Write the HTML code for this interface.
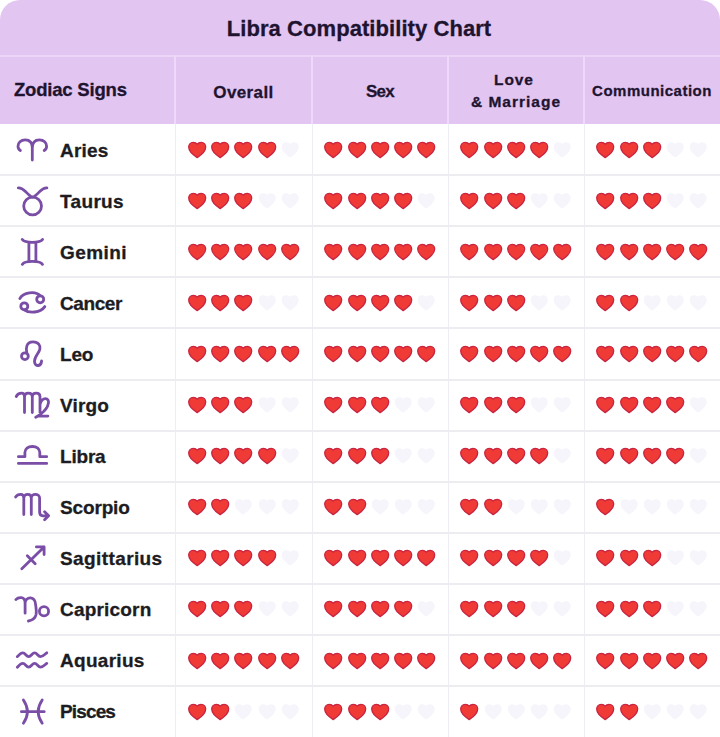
<!DOCTYPE html>
<html><head><meta charset="utf-8"><title>Libra Compatibility Chart</title>
<style>
html,body{margin:0;padding:0;}
body{width:720px;height:737px;overflow:hidden;background:#fff;position:relative;font-family:"Liberation Sans",Arial,sans-serif;font-weight:700;}
.tbl{position:absolute;left:0;top:0;width:720px;height:800px;border-radius:20px 20px 0 0;overflow:hidden;background:#fff;}
.hd{position:absolute;left:0;top:0;width:720px;height:124px;background:#e3c5f2;}
.t1{position:absolute;left:0;width:720px;text-align:center;top:0;height:0;color:#1e1430;}
.hl{position:absolute;left:0;width:720px;height:2px;background:#edecf1;}
.vl{position:absolute;top:124px;width:1px;height:700px;background:#eeedf3;}
.hv{position:absolute;top:56px;width:2px;height:68px;background:#eed9fa;}
.hh{position:absolute;left:0;top:55px;width:720px;height:2px;background:#ecd6f8;}
.tx{position:absolute;white-space:nowrap;color:#1e1430;line-height:0;-webkit-text-stroke:0.3px #1e1430;}
.nm{position:absolute;left:60px;white-space:nowrap;color:#1c1c22;font-size:19px;line-height:0;letter-spacing:0.1px;-webkit-text-stroke:0.3px #1c1c22;}
svg.h,svg.e{position:absolute;overflow:visible;}
svg.h path{fill:#ef3a36;stroke:#c92540;stroke-width:1.3;}
svg.e path{fill:#f5f5fb;}
.ic{position:absolute;left:0;top:0;overflow:visible;}
.ic path,.ic circle{fill:none;stroke:#7a4ea6;stroke-width:2.8;stroke-linecap:round;stroke-linejoin:round;}
</style></head><body>
<div class="tbl">
<div class="hd"></div>
<div class="hh"></div>
<div class="hv" style="left:174px"></div>
<div class="hv" style="left:311px"></div>
<div class="hv" style="left:447px"></div>
<div class="hv" style="left:583px"></div>
<div class="vl" style="left:175px"></div>
<div class="vl" style="left:312px"></div>
<div class="vl" style="left:448px"></div>
<div class="vl" style="left:584px"></div>
<div class="hl" style="top:174.10px"></div><div class="hl" style="top:225.20px"></div><div class="hl" style="top:276.30px"></div><div class="hl" style="top:327.40px"></div><div class="hl" style="top:378.50px"></div><div class="hl" style="top:429.60px"></div><div class="hl" style="top:480.70px"></div><div class="hl" style="top:531.80px"></div><div class="hl" style="top:582.90px"></div><div class="hl" style="top:634.00px"></div><div class="hl" style="top:685.10px"></div>
<div class="tx" style="left:-1px;width:720px;text-align:center;top:28.6px;font-size:22px;letter-spacing:0.07px;">Libra Compatibility Chart</div>
<div class="tx" style="left:14px;top:90.4px;font-size:18.5px;letter-spacing:-0.2px;">Zodiac Signs</div>
<div class="tx" style="left:175px;width:137px;text-align:center;top:92.5px;font-size:17px;letter-spacing:0.4px;">Overall</div>
<div class="tx" style="left:312px;width:136px;text-align:center;top:91.5px;font-size:17px;letter-spacing:-0.8px;">Sex</div>
<div class="tx" style="left:448px;width:136px;text-align:center;top:79.7px;font-size:15.5px;letter-spacing:0.9px;margin-left:-2px;">Love</div>
<div class="tx" style="left:448px;width:136px;text-align:center;top:102.3px;font-size:15.5px;letter-spacing:1px;">&amp; Marriage</div>
<div class="tx" style="left:584px;width:136px;text-align:center;top:90.9px;font-size:15px;letter-spacing:0.5px;">Communication</div>
<svg class="ic" width="175" height="737" viewBox="0 0 175 737">

<path d="M32.3 148C32.3 142.5 29.5 139.9 25.2 139.9C20.8 139.9 18 142.8 18 146.2C18 148 19 149.6 20.4 150.5M32.3 148C32.3 142.5 35.1 139.9 39.4 139.9C43.8 139.9 46.6 142.8 46.6 146.2C46.6 148 45.6 149.6 44.2 150.5M32.3 144V160"/>
<path d="M18.3 187.8C20.8 187.6 22.8 188.8 25.2 191.2C27.8 193.8 30 196.4 32.6 197.1M46.9 187.8C44.4 187.6 42.4 188.8 40 191.2C37.4 193.8 35.2 196.4 32.6 197.1"/><circle cx="32.6" cy="206" r="8.9"/>
<path d="M22.3 239.5C23.6 241.5 26.5 242.3 32.4 242.3C38.3 242.3 41.2 241.5 42.5 239.5M28.9 242.5V261.3M35.9 242.5V261.3M22.3 264.4C23.6 262.3 26.5 261.4 32.4 261.4C38.3 261.4 41.2 262.3 42.5 264.4"/>
<path d="M19.8 298.6C23 292.3 35.5 290.5 40.2 295.8M24.3 309.8C29 313.5 40.5 313 44.8 306.6"/><circle cx="24.3" cy="306.3" r="3.5"/><circle cx="40.2" cy="299.3" r="3.5"/>
<path d="M26.8 353.2C25.8 349 25.9 341.8 33 341.8C38.4 341.8 40.6 345.4 39.9 349C39.2 353 34.4 356.4 34.5 361.4C34.6 364.4 36.4 365.7 38.3 365.5C40.3 365.2 41.4 363.2 41.6 361"/><circle cx="24.9" cy="356.2" r="3.4"/>
<path d="M16.2 396.6C17.4 394 19.6 393.2 21.6 393.2C23.6 393.2 24.5 394.4 24.5 396.8V412.6M24.5 396.8C24.5 394.4 26.3 393.2 28.4 393.2C30.6 393.2 32.3 394.4 32.3 396.8V412.6M32.3 396.8C32.3 394.4 34.1 393.2 36.2 393.2C38.5 393.2 40 394.4 40 396.8V412.6M40 404.5C41 400.5 43 398.6 45.4 398.6C47.8 398.6 48.9 400.6 48.4 403.3C47.7 407.3 44 411.6 40.6 414.1C39 415.3 37.4 416.4 35.7 417.3M38.6 416.1H47.9"/>
<path d="M18.4 456.7H24.9V452.6C24.9 448.8 28 446.5 32.35 446.5C36.7 446.5 39.8 448.8 39.8 452.6V456.7H46.7M18.4 463.4H46.7"/>
<path d="M15.6 497C17 494.6 18.8 494.3 20.6 494.3C22.6 494.3 23.8 495.6 23.8 498V514.6M23.8 498C23.8 495.6 25.6 494.3 27.6 494.3C29.8 494.3 31.3 495.6 31.3 498V514.6M31.3 498C31.3 495.6 33.2 494.3 35.3 494.3C37.6 494.3 39.6 495.6 39.6 498V512C39.6 514.4 40.9 515.8 43 515.8H48.4M44.6 511.8L48.6 515.8L44.6 519.8"/>
<path d="M21.8 568.8L44.1 546.9M36.4 546.9H44.1V554.6M27.3 555.8L35.2 563.7"/>
<path d="M15.8 599.6C17.4 597.9 19.4 597.5 21.4 597.7C23.8 598 25.1 600 25.1 603V613.2M25.1 603C25.1 599.8 27.6 597.7 30.6 597.9C33.8 598.1 35.3 600.8 35.6 604.6C36 608 36.8 611 36.1 614.5C35.2 618.4 31.8 620.4 28.4 621"/><circle cx="44" cy="611.2" r="4.6"/>
<path d="M17.3 656.6C19.3 654.4 20.8 652.8 22.8 652.8C25.3 652.8 26.2 656.6 28.7 656.6C31.2 656.6 32.1 652.8 34.6 652.8C37.1 652.8 38 656.6 40.5 656.6C43 656.6 44.5 654.5 46.8 652.8"/>
<path d="M17.3 667.2C19.3 665 20.8 663.4 22.8 663.4C25.3 663.4 26.2 667.2 28.7 667.2C31.2 667.2 32.1 663.4 34.6 663.4C37.1 663.4 38 667.2 40.5 667.2C43 667.2 44.5 665.1 46.8 663.4"/>
<path d="M23.4 700Q31.4 711.6 23.4 723.2M42.2 700Q34.2 711.6 42.2 723.2M21.4 711.7H44.2"/>

</svg>
<div class="nm" style="top:150.60px;letter-spacing:0.18px">Aries</div>
<svg class="h" style="left:187.70px;top:141.00px" width="18.4" height="17.3" viewBox="0 0 18.4 17.3"><path d="M9.2 16.6C7.6 15.6 0.7 11.3 0.7 6.1C0.7 3.3 2.7 1.3 5.2 1.3C7 1.3 8.4 2 9.2 3.1C10 2 11.4 1.3 13.2 1.3C15.7 1.3 17.7 3.3 17.7 6.1C17.7 11.3 10.8 15.6 9.2 16.6Z"/></svg>
<svg class="h" style="left:211.00px;top:141.00px" width="18.4" height="17.3" viewBox="0 0 18.4 17.3"><path d="M9.2 16.6C7.6 15.6 0.7 11.3 0.7 6.1C0.7 3.3 2.7 1.3 5.2 1.3C7 1.3 8.4 2 9.2 3.1C10 2 11.4 1.3 13.2 1.3C15.7 1.3 17.7 3.3 17.7 6.1C17.7 11.3 10.8 15.6 9.2 16.6Z"/></svg>
<svg class="h" style="left:234.30px;top:141.00px" width="18.4" height="17.3" viewBox="0 0 18.4 17.3"><path d="M9.2 16.6C7.6 15.6 0.7 11.3 0.7 6.1C0.7 3.3 2.7 1.3 5.2 1.3C7 1.3 8.4 2 9.2 3.1C10 2 11.4 1.3 13.2 1.3C15.7 1.3 17.7 3.3 17.7 6.1C17.7 11.3 10.8 15.6 9.2 16.6Z"/></svg>
<svg class="h" style="left:257.60px;top:141.00px" width="18.4" height="17.3" viewBox="0 0 18.4 17.3"><path d="M9.2 16.6C7.6 15.6 0.7 11.3 0.7 6.1C0.7 3.3 2.7 1.3 5.2 1.3C7 1.3 8.4 2 9.2 3.1C10 2 11.4 1.3 13.2 1.3C15.7 1.3 17.7 3.3 17.7 6.1C17.7 11.3 10.8 15.6 9.2 16.6Z"/></svg>
<svg class="e" style="left:280.90px;top:141.00px" width="18.4" height="17.3" viewBox="0 0 18.4 17.3"><path d="M9.2 16.6C7.6 15.6 0.7 11.3 0.7 6.1C0.7 3.3 2.7 1.3 5.2 1.3C7 1.3 8.4 2 9.2 3.1C10 2 11.4 1.3 13.2 1.3C15.7 1.3 17.7 3.3 17.7 6.1C17.7 11.3 10.8 15.6 9.2 16.6Z"/></svg>
<svg class="h" style="left:324.20px;top:141.00px" width="18.4" height="17.3" viewBox="0 0 18.4 17.3"><path d="M9.2 16.6C7.6 15.6 0.7 11.3 0.7 6.1C0.7 3.3 2.7 1.3 5.2 1.3C7 1.3 8.4 2 9.2 3.1C10 2 11.4 1.3 13.2 1.3C15.7 1.3 17.7 3.3 17.7 6.1C17.7 11.3 10.8 15.6 9.2 16.6Z"/></svg>
<svg class="h" style="left:347.50px;top:141.00px" width="18.4" height="17.3" viewBox="0 0 18.4 17.3"><path d="M9.2 16.6C7.6 15.6 0.7 11.3 0.7 6.1C0.7 3.3 2.7 1.3 5.2 1.3C7 1.3 8.4 2 9.2 3.1C10 2 11.4 1.3 13.2 1.3C15.7 1.3 17.7 3.3 17.7 6.1C17.7 11.3 10.8 15.6 9.2 16.6Z"/></svg>
<svg class="h" style="left:370.80px;top:141.00px" width="18.4" height="17.3" viewBox="0 0 18.4 17.3"><path d="M9.2 16.6C7.6 15.6 0.7 11.3 0.7 6.1C0.7 3.3 2.7 1.3 5.2 1.3C7 1.3 8.4 2 9.2 3.1C10 2 11.4 1.3 13.2 1.3C15.7 1.3 17.7 3.3 17.7 6.1C17.7 11.3 10.8 15.6 9.2 16.6Z"/></svg>
<svg class="h" style="left:394.10px;top:141.00px" width="18.4" height="17.3" viewBox="0 0 18.4 17.3"><path d="M9.2 16.6C7.6 15.6 0.7 11.3 0.7 6.1C0.7 3.3 2.7 1.3 5.2 1.3C7 1.3 8.4 2 9.2 3.1C10 2 11.4 1.3 13.2 1.3C15.7 1.3 17.7 3.3 17.7 6.1C17.7 11.3 10.8 15.6 9.2 16.6Z"/></svg>
<svg class="h" style="left:417.40px;top:141.00px" width="18.4" height="17.3" viewBox="0 0 18.4 17.3"><path d="M9.2 16.6C7.6 15.6 0.7 11.3 0.7 6.1C0.7 3.3 2.7 1.3 5.2 1.3C7 1.3 8.4 2 9.2 3.1C10 2 11.4 1.3 13.2 1.3C15.7 1.3 17.7 3.3 17.7 6.1C17.7 11.3 10.8 15.6 9.2 16.6Z"/></svg>
<svg class="h" style="left:460.20px;top:141.00px" width="18.4" height="17.3" viewBox="0 0 18.4 17.3"><path d="M9.2 16.6C7.6 15.6 0.7 11.3 0.7 6.1C0.7 3.3 2.7 1.3 5.2 1.3C7 1.3 8.4 2 9.2 3.1C10 2 11.4 1.3 13.2 1.3C15.7 1.3 17.7 3.3 17.7 6.1C17.7 11.3 10.8 15.6 9.2 16.6Z"/></svg>
<svg class="h" style="left:483.50px;top:141.00px" width="18.4" height="17.3" viewBox="0 0 18.4 17.3"><path d="M9.2 16.6C7.6 15.6 0.7 11.3 0.7 6.1C0.7 3.3 2.7 1.3 5.2 1.3C7 1.3 8.4 2 9.2 3.1C10 2 11.4 1.3 13.2 1.3C15.7 1.3 17.7 3.3 17.7 6.1C17.7 11.3 10.8 15.6 9.2 16.6Z"/></svg>
<svg class="h" style="left:506.80px;top:141.00px" width="18.4" height="17.3" viewBox="0 0 18.4 17.3"><path d="M9.2 16.6C7.6 15.6 0.7 11.3 0.7 6.1C0.7 3.3 2.7 1.3 5.2 1.3C7 1.3 8.4 2 9.2 3.1C10 2 11.4 1.3 13.2 1.3C15.7 1.3 17.7 3.3 17.7 6.1C17.7 11.3 10.8 15.6 9.2 16.6Z"/></svg>
<svg class="h" style="left:530.10px;top:141.00px" width="18.4" height="17.3" viewBox="0 0 18.4 17.3"><path d="M9.2 16.6C7.6 15.6 0.7 11.3 0.7 6.1C0.7 3.3 2.7 1.3 5.2 1.3C7 1.3 8.4 2 9.2 3.1C10 2 11.4 1.3 13.2 1.3C15.7 1.3 17.7 3.3 17.7 6.1C17.7 11.3 10.8 15.6 9.2 16.6Z"/></svg>
<svg class="e" style="left:553.40px;top:141.00px" width="18.4" height="17.3" viewBox="0 0 18.4 17.3"><path d="M9.2 16.6C7.6 15.6 0.7 11.3 0.7 6.1C0.7 3.3 2.7 1.3 5.2 1.3C7 1.3 8.4 2 9.2 3.1C10 2 11.4 1.3 13.2 1.3C15.7 1.3 17.7 3.3 17.7 6.1C17.7 11.3 10.8 15.6 9.2 16.6Z"/></svg>
<svg class="h" style="left:596.20px;top:141.00px" width="18.4" height="17.3" viewBox="0 0 18.4 17.3"><path d="M9.2 16.6C7.6 15.6 0.7 11.3 0.7 6.1C0.7 3.3 2.7 1.3 5.2 1.3C7 1.3 8.4 2 9.2 3.1C10 2 11.4 1.3 13.2 1.3C15.7 1.3 17.7 3.3 17.7 6.1C17.7 11.3 10.8 15.6 9.2 16.6Z"/></svg>
<svg class="h" style="left:619.50px;top:141.00px" width="18.4" height="17.3" viewBox="0 0 18.4 17.3"><path d="M9.2 16.6C7.6 15.6 0.7 11.3 0.7 6.1C0.7 3.3 2.7 1.3 5.2 1.3C7 1.3 8.4 2 9.2 3.1C10 2 11.4 1.3 13.2 1.3C15.7 1.3 17.7 3.3 17.7 6.1C17.7 11.3 10.8 15.6 9.2 16.6Z"/></svg>
<svg class="h" style="left:642.80px;top:141.00px" width="18.4" height="17.3" viewBox="0 0 18.4 17.3"><path d="M9.2 16.6C7.6 15.6 0.7 11.3 0.7 6.1C0.7 3.3 2.7 1.3 5.2 1.3C7 1.3 8.4 2 9.2 3.1C10 2 11.4 1.3 13.2 1.3C15.7 1.3 17.7 3.3 17.7 6.1C17.7 11.3 10.8 15.6 9.2 16.6Z"/></svg>
<svg class="e" style="left:666.10px;top:141.00px" width="18.4" height="17.3" viewBox="0 0 18.4 17.3"><path d="M9.2 16.6C7.6 15.6 0.7 11.3 0.7 6.1C0.7 3.3 2.7 1.3 5.2 1.3C7 1.3 8.4 2 9.2 3.1C10 2 11.4 1.3 13.2 1.3C15.7 1.3 17.7 3.3 17.7 6.1C17.7 11.3 10.8 15.6 9.2 16.6Z"/></svg>
<svg class="e" style="left:689.40px;top:141.00px" width="18.4" height="17.3" viewBox="0 0 18.4 17.3"><path d="M9.2 16.6C7.6 15.6 0.7 11.3 0.7 6.1C0.7 3.3 2.7 1.3 5.2 1.3C7 1.3 8.4 2 9.2 3.1C10 2 11.4 1.3 13.2 1.3C15.7 1.3 17.7 3.3 17.7 6.1C17.7 11.3 10.8 15.6 9.2 16.6Z"/></svg>
<div class="nm" style="top:201.60px;letter-spacing:0.34px">Taurus</div>
<svg class="h" style="left:187.70px;top:192.05px" width="18.4" height="17.3" viewBox="0 0 18.4 17.3"><path d="M9.2 16.6C7.6 15.6 0.7 11.3 0.7 6.1C0.7 3.3 2.7 1.3 5.2 1.3C7 1.3 8.4 2 9.2 3.1C10 2 11.4 1.3 13.2 1.3C15.7 1.3 17.7 3.3 17.7 6.1C17.7 11.3 10.8 15.6 9.2 16.6Z"/></svg>
<svg class="h" style="left:211.00px;top:192.05px" width="18.4" height="17.3" viewBox="0 0 18.4 17.3"><path d="M9.2 16.6C7.6 15.6 0.7 11.3 0.7 6.1C0.7 3.3 2.7 1.3 5.2 1.3C7 1.3 8.4 2 9.2 3.1C10 2 11.4 1.3 13.2 1.3C15.7 1.3 17.7 3.3 17.7 6.1C17.7 11.3 10.8 15.6 9.2 16.6Z"/></svg>
<svg class="h" style="left:234.30px;top:192.05px" width="18.4" height="17.3" viewBox="0 0 18.4 17.3"><path d="M9.2 16.6C7.6 15.6 0.7 11.3 0.7 6.1C0.7 3.3 2.7 1.3 5.2 1.3C7 1.3 8.4 2 9.2 3.1C10 2 11.4 1.3 13.2 1.3C15.7 1.3 17.7 3.3 17.7 6.1C17.7 11.3 10.8 15.6 9.2 16.6Z"/></svg>
<svg class="e" style="left:257.60px;top:192.05px" width="18.4" height="17.3" viewBox="0 0 18.4 17.3"><path d="M9.2 16.6C7.6 15.6 0.7 11.3 0.7 6.1C0.7 3.3 2.7 1.3 5.2 1.3C7 1.3 8.4 2 9.2 3.1C10 2 11.4 1.3 13.2 1.3C15.7 1.3 17.7 3.3 17.7 6.1C17.7 11.3 10.8 15.6 9.2 16.6Z"/></svg>
<svg class="e" style="left:280.90px;top:192.05px" width="18.4" height="17.3" viewBox="0 0 18.4 17.3"><path d="M9.2 16.6C7.6 15.6 0.7 11.3 0.7 6.1C0.7 3.3 2.7 1.3 5.2 1.3C7 1.3 8.4 2 9.2 3.1C10 2 11.4 1.3 13.2 1.3C15.7 1.3 17.7 3.3 17.7 6.1C17.7 11.3 10.8 15.6 9.2 16.6Z"/></svg>
<svg class="h" style="left:324.20px;top:192.05px" width="18.4" height="17.3" viewBox="0 0 18.4 17.3"><path d="M9.2 16.6C7.6 15.6 0.7 11.3 0.7 6.1C0.7 3.3 2.7 1.3 5.2 1.3C7 1.3 8.4 2 9.2 3.1C10 2 11.4 1.3 13.2 1.3C15.7 1.3 17.7 3.3 17.7 6.1C17.7 11.3 10.8 15.6 9.2 16.6Z"/></svg>
<svg class="h" style="left:347.50px;top:192.05px" width="18.4" height="17.3" viewBox="0 0 18.4 17.3"><path d="M9.2 16.6C7.6 15.6 0.7 11.3 0.7 6.1C0.7 3.3 2.7 1.3 5.2 1.3C7 1.3 8.4 2 9.2 3.1C10 2 11.4 1.3 13.2 1.3C15.7 1.3 17.7 3.3 17.7 6.1C17.7 11.3 10.8 15.6 9.2 16.6Z"/></svg>
<svg class="h" style="left:370.80px;top:192.05px" width="18.4" height="17.3" viewBox="0 0 18.4 17.3"><path d="M9.2 16.6C7.6 15.6 0.7 11.3 0.7 6.1C0.7 3.3 2.7 1.3 5.2 1.3C7 1.3 8.4 2 9.2 3.1C10 2 11.4 1.3 13.2 1.3C15.7 1.3 17.7 3.3 17.7 6.1C17.7 11.3 10.8 15.6 9.2 16.6Z"/></svg>
<svg class="h" style="left:394.10px;top:192.05px" width="18.4" height="17.3" viewBox="0 0 18.4 17.3"><path d="M9.2 16.6C7.6 15.6 0.7 11.3 0.7 6.1C0.7 3.3 2.7 1.3 5.2 1.3C7 1.3 8.4 2 9.2 3.1C10 2 11.4 1.3 13.2 1.3C15.7 1.3 17.7 3.3 17.7 6.1C17.7 11.3 10.8 15.6 9.2 16.6Z"/></svg>
<svg class="e" style="left:417.40px;top:192.05px" width="18.4" height="17.3" viewBox="0 0 18.4 17.3"><path d="M9.2 16.6C7.6 15.6 0.7 11.3 0.7 6.1C0.7 3.3 2.7 1.3 5.2 1.3C7 1.3 8.4 2 9.2 3.1C10 2 11.4 1.3 13.2 1.3C15.7 1.3 17.7 3.3 17.7 6.1C17.7 11.3 10.8 15.6 9.2 16.6Z"/></svg>
<svg class="h" style="left:460.20px;top:192.05px" width="18.4" height="17.3" viewBox="0 0 18.4 17.3"><path d="M9.2 16.6C7.6 15.6 0.7 11.3 0.7 6.1C0.7 3.3 2.7 1.3 5.2 1.3C7 1.3 8.4 2 9.2 3.1C10 2 11.4 1.3 13.2 1.3C15.7 1.3 17.7 3.3 17.7 6.1C17.7 11.3 10.8 15.6 9.2 16.6Z"/></svg>
<svg class="h" style="left:483.50px;top:192.05px" width="18.4" height="17.3" viewBox="0 0 18.4 17.3"><path d="M9.2 16.6C7.6 15.6 0.7 11.3 0.7 6.1C0.7 3.3 2.7 1.3 5.2 1.3C7 1.3 8.4 2 9.2 3.1C10 2 11.4 1.3 13.2 1.3C15.7 1.3 17.7 3.3 17.7 6.1C17.7 11.3 10.8 15.6 9.2 16.6Z"/></svg>
<svg class="h" style="left:506.80px;top:192.05px" width="18.4" height="17.3" viewBox="0 0 18.4 17.3"><path d="M9.2 16.6C7.6 15.6 0.7 11.3 0.7 6.1C0.7 3.3 2.7 1.3 5.2 1.3C7 1.3 8.4 2 9.2 3.1C10 2 11.4 1.3 13.2 1.3C15.7 1.3 17.7 3.3 17.7 6.1C17.7 11.3 10.8 15.6 9.2 16.6Z"/></svg>
<svg class="e" style="left:530.10px;top:192.05px" width="18.4" height="17.3" viewBox="0 0 18.4 17.3"><path d="M9.2 16.6C7.6 15.6 0.7 11.3 0.7 6.1C0.7 3.3 2.7 1.3 5.2 1.3C7 1.3 8.4 2 9.2 3.1C10 2 11.4 1.3 13.2 1.3C15.7 1.3 17.7 3.3 17.7 6.1C17.7 11.3 10.8 15.6 9.2 16.6Z"/></svg>
<svg class="e" style="left:553.40px;top:192.05px" width="18.4" height="17.3" viewBox="0 0 18.4 17.3"><path d="M9.2 16.6C7.6 15.6 0.7 11.3 0.7 6.1C0.7 3.3 2.7 1.3 5.2 1.3C7 1.3 8.4 2 9.2 3.1C10 2 11.4 1.3 13.2 1.3C15.7 1.3 17.7 3.3 17.7 6.1C17.7 11.3 10.8 15.6 9.2 16.6Z"/></svg>
<svg class="h" style="left:596.20px;top:192.05px" width="18.4" height="17.3" viewBox="0 0 18.4 17.3"><path d="M9.2 16.6C7.6 15.6 0.7 11.3 0.7 6.1C0.7 3.3 2.7 1.3 5.2 1.3C7 1.3 8.4 2 9.2 3.1C10 2 11.4 1.3 13.2 1.3C15.7 1.3 17.7 3.3 17.7 6.1C17.7 11.3 10.8 15.6 9.2 16.6Z"/></svg>
<svg class="h" style="left:619.50px;top:192.05px" width="18.4" height="17.3" viewBox="0 0 18.4 17.3"><path d="M9.2 16.6C7.6 15.6 0.7 11.3 0.7 6.1C0.7 3.3 2.7 1.3 5.2 1.3C7 1.3 8.4 2 9.2 3.1C10 2 11.4 1.3 13.2 1.3C15.7 1.3 17.7 3.3 17.7 6.1C17.7 11.3 10.8 15.6 9.2 16.6Z"/></svg>
<svg class="h" style="left:642.80px;top:192.05px" width="18.4" height="17.3" viewBox="0 0 18.4 17.3"><path d="M9.2 16.6C7.6 15.6 0.7 11.3 0.7 6.1C0.7 3.3 2.7 1.3 5.2 1.3C7 1.3 8.4 2 9.2 3.1C10 2 11.4 1.3 13.2 1.3C15.7 1.3 17.7 3.3 17.7 6.1C17.7 11.3 10.8 15.6 9.2 16.6Z"/></svg>
<svg class="e" style="left:666.10px;top:192.05px" width="18.4" height="17.3" viewBox="0 0 18.4 17.3"><path d="M9.2 16.6C7.6 15.6 0.7 11.3 0.7 6.1C0.7 3.3 2.7 1.3 5.2 1.3C7 1.3 8.4 2 9.2 3.1C10 2 11.4 1.3 13.2 1.3C15.7 1.3 17.7 3.3 17.7 6.1C17.7 11.3 10.8 15.6 9.2 16.6Z"/></svg>
<svg class="e" style="left:689.40px;top:192.05px" width="18.4" height="17.3" viewBox="0 0 18.4 17.3"><path d="M9.2 16.6C7.6 15.6 0.7 11.3 0.7 6.1C0.7 3.3 2.7 1.3 5.2 1.3C7 1.3 8.4 2 9.2 3.1C10 2 11.4 1.3 13.2 1.3C15.7 1.3 17.7 3.3 17.7 6.1C17.7 11.3 10.8 15.6 9.2 16.6Z"/></svg>
<div class="nm" style="top:252.60px;letter-spacing:0.44px">Gemini</div>
<svg class="h" style="left:187.70px;top:243.10px" width="18.4" height="17.3" viewBox="0 0 18.4 17.3"><path d="M9.2 16.6C7.6 15.6 0.7 11.3 0.7 6.1C0.7 3.3 2.7 1.3 5.2 1.3C7 1.3 8.4 2 9.2 3.1C10 2 11.4 1.3 13.2 1.3C15.7 1.3 17.7 3.3 17.7 6.1C17.7 11.3 10.8 15.6 9.2 16.6Z"/></svg>
<svg class="h" style="left:211.00px;top:243.10px" width="18.4" height="17.3" viewBox="0 0 18.4 17.3"><path d="M9.2 16.6C7.6 15.6 0.7 11.3 0.7 6.1C0.7 3.3 2.7 1.3 5.2 1.3C7 1.3 8.4 2 9.2 3.1C10 2 11.4 1.3 13.2 1.3C15.7 1.3 17.7 3.3 17.7 6.1C17.7 11.3 10.8 15.6 9.2 16.6Z"/></svg>
<svg class="h" style="left:234.30px;top:243.10px" width="18.4" height="17.3" viewBox="0 0 18.4 17.3"><path d="M9.2 16.6C7.6 15.6 0.7 11.3 0.7 6.1C0.7 3.3 2.7 1.3 5.2 1.3C7 1.3 8.4 2 9.2 3.1C10 2 11.4 1.3 13.2 1.3C15.7 1.3 17.7 3.3 17.7 6.1C17.7 11.3 10.8 15.6 9.2 16.6Z"/></svg>
<svg class="h" style="left:257.60px;top:243.10px" width="18.4" height="17.3" viewBox="0 0 18.4 17.3"><path d="M9.2 16.6C7.6 15.6 0.7 11.3 0.7 6.1C0.7 3.3 2.7 1.3 5.2 1.3C7 1.3 8.4 2 9.2 3.1C10 2 11.4 1.3 13.2 1.3C15.7 1.3 17.7 3.3 17.7 6.1C17.7 11.3 10.8 15.6 9.2 16.6Z"/></svg>
<svg class="h" style="left:280.90px;top:243.10px" width="18.4" height="17.3" viewBox="0 0 18.4 17.3"><path d="M9.2 16.6C7.6 15.6 0.7 11.3 0.7 6.1C0.7 3.3 2.7 1.3 5.2 1.3C7 1.3 8.4 2 9.2 3.1C10 2 11.4 1.3 13.2 1.3C15.7 1.3 17.7 3.3 17.7 6.1C17.7 11.3 10.8 15.6 9.2 16.6Z"/></svg>
<svg class="h" style="left:324.20px;top:243.10px" width="18.4" height="17.3" viewBox="0 0 18.4 17.3"><path d="M9.2 16.6C7.6 15.6 0.7 11.3 0.7 6.1C0.7 3.3 2.7 1.3 5.2 1.3C7 1.3 8.4 2 9.2 3.1C10 2 11.4 1.3 13.2 1.3C15.7 1.3 17.7 3.3 17.7 6.1C17.7 11.3 10.8 15.6 9.2 16.6Z"/></svg>
<svg class="h" style="left:347.50px;top:243.10px" width="18.4" height="17.3" viewBox="0 0 18.4 17.3"><path d="M9.2 16.6C7.6 15.6 0.7 11.3 0.7 6.1C0.7 3.3 2.7 1.3 5.2 1.3C7 1.3 8.4 2 9.2 3.1C10 2 11.4 1.3 13.2 1.3C15.7 1.3 17.7 3.3 17.7 6.1C17.7 11.3 10.8 15.6 9.2 16.6Z"/></svg>
<svg class="h" style="left:370.80px;top:243.10px" width="18.4" height="17.3" viewBox="0 0 18.4 17.3"><path d="M9.2 16.6C7.6 15.6 0.7 11.3 0.7 6.1C0.7 3.3 2.7 1.3 5.2 1.3C7 1.3 8.4 2 9.2 3.1C10 2 11.4 1.3 13.2 1.3C15.7 1.3 17.7 3.3 17.7 6.1C17.7 11.3 10.8 15.6 9.2 16.6Z"/></svg>
<svg class="h" style="left:394.10px;top:243.10px" width="18.4" height="17.3" viewBox="0 0 18.4 17.3"><path d="M9.2 16.6C7.6 15.6 0.7 11.3 0.7 6.1C0.7 3.3 2.7 1.3 5.2 1.3C7 1.3 8.4 2 9.2 3.1C10 2 11.4 1.3 13.2 1.3C15.7 1.3 17.7 3.3 17.7 6.1C17.7 11.3 10.8 15.6 9.2 16.6Z"/></svg>
<svg class="h" style="left:417.40px;top:243.10px" width="18.4" height="17.3" viewBox="0 0 18.4 17.3"><path d="M9.2 16.6C7.6 15.6 0.7 11.3 0.7 6.1C0.7 3.3 2.7 1.3 5.2 1.3C7 1.3 8.4 2 9.2 3.1C10 2 11.4 1.3 13.2 1.3C15.7 1.3 17.7 3.3 17.7 6.1C17.7 11.3 10.8 15.6 9.2 16.6Z"/></svg>
<svg class="h" style="left:460.20px;top:243.10px" width="18.4" height="17.3" viewBox="0 0 18.4 17.3"><path d="M9.2 16.6C7.6 15.6 0.7 11.3 0.7 6.1C0.7 3.3 2.7 1.3 5.2 1.3C7 1.3 8.4 2 9.2 3.1C10 2 11.4 1.3 13.2 1.3C15.7 1.3 17.7 3.3 17.7 6.1C17.7 11.3 10.8 15.6 9.2 16.6Z"/></svg>
<svg class="h" style="left:483.50px;top:243.10px" width="18.4" height="17.3" viewBox="0 0 18.4 17.3"><path d="M9.2 16.6C7.6 15.6 0.7 11.3 0.7 6.1C0.7 3.3 2.7 1.3 5.2 1.3C7 1.3 8.4 2 9.2 3.1C10 2 11.4 1.3 13.2 1.3C15.7 1.3 17.7 3.3 17.7 6.1C17.7 11.3 10.8 15.6 9.2 16.6Z"/></svg>
<svg class="h" style="left:506.80px;top:243.10px" width="18.4" height="17.3" viewBox="0 0 18.4 17.3"><path d="M9.2 16.6C7.6 15.6 0.7 11.3 0.7 6.1C0.7 3.3 2.7 1.3 5.2 1.3C7 1.3 8.4 2 9.2 3.1C10 2 11.4 1.3 13.2 1.3C15.7 1.3 17.7 3.3 17.7 6.1C17.7 11.3 10.8 15.6 9.2 16.6Z"/></svg>
<svg class="h" style="left:530.10px;top:243.10px" width="18.4" height="17.3" viewBox="0 0 18.4 17.3"><path d="M9.2 16.6C7.6 15.6 0.7 11.3 0.7 6.1C0.7 3.3 2.7 1.3 5.2 1.3C7 1.3 8.4 2 9.2 3.1C10 2 11.4 1.3 13.2 1.3C15.7 1.3 17.7 3.3 17.7 6.1C17.7 11.3 10.8 15.6 9.2 16.6Z"/></svg>
<svg class="h" style="left:553.40px;top:243.10px" width="18.4" height="17.3" viewBox="0 0 18.4 17.3"><path d="M9.2 16.6C7.6 15.6 0.7 11.3 0.7 6.1C0.7 3.3 2.7 1.3 5.2 1.3C7 1.3 8.4 2 9.2 3.1C10 2 11.4 1.3 13.2 1.3C15.7 1.3 17.7 3.3 17.7 6.1C17.7 11.3 10.8 15.6 9.2 16.6Z"/></svg>
<svg class="h" style="left:596.20px;top:243.10px" width="18.4" height="17.3" viewBox="0 0 18.4 17.3"><path d="M9.2 16.6C7.6 15.6 0.7 11.3 0.7 6.1C0.7 3.3 2.7 1.3 5.2 1.3C7 1.3 8.4 2 9.2 3.1C10 2 11.4 1.3 13.2 1.3C15.7 1.3 17.7 3.3 17.7 6.1C17.7 11.3 10.8 15.6 9.2 16.6Z"/></svg>
<svg class="h" style="left:619.50px;top:243.10px" width="18.4" height="17.3" viewBox="0 0 18.4 17.3"><path d="M9.2 16.6C7.6 15.6 0.7 11.3 0.7 6.1C0.7 3.3 2.7 1.3 5.2 1.3C7 1.3 8.4 2 9.2 3.1C10 2 11.4 1.3 13.2 1.3C15.7 1.3 17.7 3.3 17.7 6.1C17.7 11.3 10.8 15.6 9.2 16.6Z"/></svg>
<svg class="h" style="left:642.80px;top:243.10px" width="18.4" height="17.3" viewBox="0 0 18.4 17.3"><path d="M9.2 16.6C7.6 15.6 0.7 11.3 0.7 6.1C0.7 3.3 2.7 1.3 5.2 1.3C7 1.3 8.4 2 9.2 3.1C10 2 11.4 1.3 13.2 1.3C15.7 1.3 17.7 3.3 17.7 6.1C17.7 11.3 10.8 15.6 9.2 16.6Z"/></svg>
<svg class="h" style="left:666.10px;top:243.10px" width="18.4" height="17.3" viewBox="0 0 18.4 17.3"><path d="M9.2 16.6C7.6 15.6 0.7 11.3 0.7 6.1C0.7 3.3 2.7 1.3 5.2 1.3C7 1.3 8.4 2 9.2 3.1C10 2 11.4 1.3 13.2 1.3C15.7 1.3 17.7 3.3 17.7 6.1C17.7 11.3 10.8 15.6 9.2 16.6Z"/></svg>
<svg class="h" style="left:689.40px;top:243.10px" width="18.4" height="17.3" viewBox="0 0 18.4 17.3"><path d="M9.2 16.6C7.6 15.6 0.7 11.3 0.7 6.1C0.7 3.3 2.7 1.3 5.2 1.3C7 1.3 8.4 2 9.2 3.1C10 2 11.4 1.3 13.2 1.3C15.7 1.3 17.7 3.3 17.7 6.1C17.7 11.3 10.8 15.6 9.2 16.6Z"/></svg>
<div class="nm" style="top:303.60px;letter-spacing:-0.4px">Cancer</div>
<svg class="h" style="left:187.70px;top:294.15px" width="18.4" height="17.3" viewBox="0 0 18.4 17.3"><path d="M9.2 16.6C7.6 15.6 0.7 11.3 0.7 6.1C0.7 3.3 2.7 1.3 5.2 1.3C7 1.3 8.4 2 9.2 3.1C10 2 11.4 1.3 13.2 1.3C15.7 1.3 17.7 3.3 17.7 6.1C17.7 11.3 10.8 15.6 9.2 16.6Z"/></svg>
<svg class="h" style="left:211.00px;top:294.15px" width="18.4" height="17.3" viewBox="0 0 18.4 17.3"><path d="M9.2 16.6C7.6 15.6 0.7 11.3 0.7 6.1C0.7 3.3 2.7 1.3 5.2 1.3C7 1.3 8.4 2 9.2 3.1C10 2 11.4 1.3 13.2 1.3C15.7 1.3 17.7 3.3 17.7 6.1C17.7 11.3 10.8 15.6 9.2 16.6Z"/></svg>
<svg class="h" style="left:234.30px;top:294.15px" width="18.4" height="17.3" viewBox="0 0 18.4 17.3"><path d="M9.2 16.6C7.6 15.6 0.7 11.3 0.7 6.1C0.7 3.3 2.7 1.3 5.2 1.3C7 1.3 8.4 2 9.2 3.1C10 2 11.4 1.3 13.2 1.3C15.7 1.3 17.7 3.3 17.7 6.1C17.7 11.3 10.8 15.6 9.2 16.6Z"/></svg>
<svg class="e" style="left:257.60px;top:294.15px" width="18.4" height="17.3" viewBox="0 0 18.4 17.3"><path d="M9.2 16.6C7.6 15.6 0.7 11.3 0.7 6.1C0.7 3.3 2.7 1.3 5.2 1.3C7 1.3 8.4 2 9.2 3.1C10 2 11.4 1.3 13.2 1.3C15.7 1.3 17.7 3.3 17.7 6.1C17.7 11.3 10.8 15.6 9.2 16.6Z"/></svg>
<svg class="e" style="left:280.90px;top:294.15px" width="18.4" height="17.3" viewBox="0 0 18.4 17.3"><path d="M9.2 16.6C7.6 15.6 0.7 11.3 0.7 6.1C0.7 3.3 2.7 1.3 5.2 1.3C7 1.3 8.4 2 9.2 3.1C10 2 11.4 1.3 13.2 1.3C15.7 1.3 17.7 3.3 17.7 6.1C17.7 11.3 10.8 15.6 9.2 16.6Z"/></svg>
<svg class="h" style="left:324.20px;top:294.15px" width="18.4" height="17.3" viewBox="0 0 18.4 17.3"><path d="M9.2 16.6C7.6 15.6 0.7 11.3 0.7 6.1C0.7 3.3 2.7 1.3 5.2 1.3C7 1.3 8.4 2 9.2 3.1C10 2 11.4 1.3 13.2 1.3C15.7 1.3 17.7 3.3 17.7 6.1C17.7 11.3 10.8 15.6 9.2 16.6Z"/></svg>
<svg class="h" style="left:347.50px;top:294.15px" width="18.4" height="17.3" viewBox="0 0 18.4 17.3"><path d="M9.2 16.6C7.6 15.6 0.7 11.3 0.7 6.1C0.7 3.3 2.7 1.3 5.2 1.3C7 1.3 8.4 2 9.2 3.1C10 2 11.4 1.3 13.2 1.3C15.7 1.3 17.7 3.3 17.7 6.1C17.7 11.3 10.8 15.6 9.2 16.6Z"/></svg>
<svg class="h" style="left:370.80px;top:294.15px" width="18.4" height="17.3" viewBox="0 0 18.4 17.3"><path d="M9.2 16.6C7.6 15.6 0.7 11.3 0.7 6.1C0.7 3.3 2.7 1.3 5.2 1.3C7 1.3 8.4 2 9.2 3.1C10 2 11.4 1.3 13.2 1.3C15.7 1.3 17.7 3.3 17.7 6.1C17.7 11.3 10.8 15.6 9.2 16.6Z"/></svg>
<svg class="h" style="left:394.10px;top:294.15px" width="18.4" height="17.3" viewBox="0 0 18.4 17.3"><path d="M9.2 16.6C7.6 15.6 0.7 11.3 0.7 6.1C0.7 3.3 2.7 1.3 5.2 1.3C7 1.3 8.4 2 9.2 3.1C10 2 11.4 1.3 13.2 1.3C15.7 1.3 17.7 3.3 17.7 6.1C17.7 11.3 10.8 15.6 9.2 16.6Z"/></svg>
<svg class="e" style="left:417.40px;top:294.15px" width="18.4" height="17.3" viewBox="0 0 18.4 17.3"><path d="M9.2 16.6C7.6 15.6 0.7 11.3 0.7 6.1C0.7 3.3 2.7 1.3 5.2 1.3C7 1.3 8.4 2 9.2 3.1C10 2 11.4 1.3 13.2 1.3C15.7 1.3 17.7 3.3 17.7 6.1C17.7 11.3 10.8 15.6 9.2 16.6Z"/></svg>
<svg class="h" style="left:460.20px;top:294.15px" width="18.4" height="17.3" viewBox="0 0 18.4 17.3"><path d="M9.2 16.6C7.6 15.6 0.7 11.3 0.7 6.1C0.7 3.3 2.7 1.3 5.2 1.3C7 1.3 8.4 2 9.2 3.1C10 2 11.4 1.3 13.2 1.3C15.7 1.3 17.7 3.3 17.7 6.1C17.7 11.3 10.8 15.6 9.2 16.6Z"/></svg>
<svg class="h" style="left:483.50px;top:294.15px" width="18.4" height="17.3" viewBox="0 0 18.4 17.3"><path d="M9.2 16.6C7.6 15.6 0.7 11.3 0.7 6.1C0.7 3.3 2.7 1.3 5.2 1.3C7 1.3 8.4 2 9.2 3.1C10 2 11.4 1.3 13.2 1.3C15.7 1.3 17.7 3.3 17.7 6.1C17.7 11.3 10.8 15.6 9.2 16.6Z"/></svg>
<svg class="h" style="left:506.80px;top:294.15px" width="18.4" height="17.3" viewBox="0 0 18.4 17.3"><path d="M9.2 16.6C7.6 15.6 0.7 11.3 0.7 6.1C0.7 3.3 2.7 1.3 5.2 1.3C7 1.3 8.4 2 9.2 3.1C10 2 11.4 1.3 13.2 1.3C15.7 1.3 17.7 3.3 17.7 6.1C17.7 11.3 10.8 15.6 9.2 16.6Z"/></svg>
<svg class="e" style="left:530.10px;top:294.15px" width="18.4" height="17.3" viewBox="0 0 18.4 17.3"><path d="M9.2 16.6C7.6 15.6 0.7 11.3 0.7 6.1C0.7 3.3 2.7 1.3 5.2 1.3C7 1.3 8.4 2 9.2 3.1C10 2 11.4 1.3 13.2 1.3C15.7 1.3 17.7 3.3 17.7 6.1C17.7 11.3 10.8 15.6 9.2 16.6Z"/></svg>
<svg class="e" style="left:553.40px;top:294.15px" width="18.4" height="17.3" viewBox="0 0 18.4 17.3"><path d="M9.2 16.6C7.6 15.6 0.7 11.3 0.7 6.1C0.7 3.3 2.7 1.3 5.2 1.3C7 1.3 8.4 2 9.2 3.1C10 2 11.4 1.3 13.2 1.3C15.7 1.3 17.7 3.3 17.7 6.1C17.7 11.3 10.8 15.6 9.2 16.6Z"/></svg>
<svg class="h" style="left:596.20px;top:294.15px" width="18.4" height="17.3" viewBox="0 0 18.4 17.3"><path d="M9.2 16.6C7.6 15.6 0.7 11.3 0.7 6.1C0.7 3.3 2.7 1.3 5.2 1.3C7 1.3 8.4 2 9.2 3.1C10 2 11.4 1.3 13.2 1.3C15.7 1.3 17.7 3.3 17.7 6.1C17.7 11.3 10.8 15.6 9.2 16.6Z"/></svg>
<svg class="h" style="left:619.50px;top:294.15px" width="18.4" height="17.3" viewBox="0 0 18.4 17.3"><path d="M9.2 16.6C7.6 15.6 0.7 11.3 0.7 6.1C0.7 3.3 2.7 1.3 5.2 1.3C7 1.3 8.4 2 9.2 3.1C10 2 11.4 1.3 13.2 1.3C15.7 1.3 17.7 3.3 17.7 6.1C17.7 11.3 10.8 15.6 9.2 16.6Z"/></svg>
<svg class="e" style="left:642.80px;top:294.15px" width="18.4" height="17.3" viewBox="0 0 18.4 17.3"><path d="M9.2 16.6C7.6 15.6 0.7 11.3 0.7 6.1C0.7 3.3 2.7 1.3 5.2 1.3C7 1.3 8.4 2 9.2 3.1C10 2 11.4 1.3 13.2 1.3C15.7 1.3 17.7 3.3 17.7 6.1C17.7 11.3 10.8 15.6 9.2 16.6Z"/></svg>
<svg class="e" style="left:666.10px;top:294.15px" width="18.4" height="17.3" viewBox="0 0 18.4 17.3"><path d="M9.2 16.6C7.6 15.6 0.7 11.3 0.7 6.1C0.7 3.3 2.7 1.3 5.2 1.3C7 1.3 8.4 2 9.2 3.1C10 2 11.4 1.3 13.2 1.3C15.7 1.3 17.7 3.3 17.7 6.1C17.7 11.3 10.8 15.6 9.2 16.6Z"/></svg>
<svg class="e" style="left:689.40px;top:294.15px" width="18.4" height="17.3" viewBox="0 0 18.4 17.3"><path d="M9.2 16.6C7.6 15.6 0.7 11.3 0.7 6.1C0.7 3.3 2.7 1.3 5.2 1.3C7 1.3 8.4 2 9.2 3.1C10 2 11.4 1.3 13.2 1.3C15.7 1.3 17.7 3.3 17.7 6.1C17.7 11.3 10.8 15.6 9.2 16.6Z"/></svg>
<div class="nm" style="top:354.60px;letter-spacing:-0.15px">Leo</div>
<svg class="h" style="left:187.70px;top:345.20px" width="18.4" height="17.3" viewBox="0 0 18.4 17.3"><path d="M9.2 16.6C7.6 15.6 0.7 11.3 0.7 6.1C0.7 3.3 2.7 1.3 5.2 1.3C7 1.3 8.4 2 9.2 3.1C10 2 11.4 1.3 13.2 1.3C15.7 1.3 17.7 3.3 17.7 6.1C17.7 11.3 10.8 15.6 9.2 16.6Z"/></svg>
<svg class="h" style="left:211.00px;top:345.20px" width="18.4" height="17.3" viewBox="0 0 18.4 17.3"><path d="M9.2 16.6C7.6 15.6 0.7 11.3 0.7 6.1C0.7 3.3 2.7 1.3 5.2 1.3C7 1.3 8.4 2 9.2 3.1C10 2 11.4 1.3 13.2 1.3C15.7 1.3 17.7 3.3 17.7 6.1C17.7 11.3 10.8 15.6 9.2 16.6Z"/></svg>
<svg class="h" style="left:234.30px;top:345.20px" width="18.4" height="17.3" viewBox="0 0 18.4 17.3"><path d="M9.2 16.6C7.6 15.6 0.7 11.3 0.7 6.1C0.7 3.3 2.7 1.3 5.2 1.3C7 1.3 8.4 2 9.2 3.1C10 2 11.4 1.3 13.2 1.3C15.7 1.3 17.7 3.3 17.7 6.1C17.7 11.3 10.8 15.6 9.2 16.6Z"/></svg>
<svg class="h" style="left:257.60px;top:345.20px" width="18.4" height="17.3" viewBox="0 0 18.4 17.3"><path d="M9.2 16.6C7.6 15.6 0.7 11.3 0.7 6.1C0.7 3.3 2.7 1.3 5.2 1.3C7 1.3 8.4 2 9.2 3.1C10 2 11.4 1.3 13.2 1.3C15.7 1.3 17.7 3.3 17.7 6.1C17.7 11.3 10.8 15.6 9.2 16.6Z"/></svg>
<svg class="h" style="left:280.90px;top:345.20px" width="18.4" height="17.3" viewBox="0 0 18.4 17.3"><path d="M9.2 16.6C7.6 15.6 0.7 11.3 0.7 6.1C0.7 3.3 2.7 1.3 5.2 1.3C7 1.3 8.4 2 9.2 3.1C10 2 11.4 1.3 13.2 1.3C15.7 1.3 17.7 3.3 17.7 6.1C17.7 11.3 10.8 15.6 9.2 16.6Z"/></svg>
<svg class="h" style="left:324.20px;top:345.20px" width="18.4" height="17.3" viewBox="0 0 18.4 17.3"><path d="M9.2 16.6C7.6 15.6 0.7 11.3 0.7 6.1C0.7 3.3 2.7 1.3 5.2 1.3C7 1.3 8.4 2 9.2 3.1C10 2 11.4 1.3 13.2 1.3C15.7 1.3 17.7 3.3 17.7 6.1C17.7 11.3 10.8 15.6 9.2 16.6Z"/></svg>
<svg class="h" style="left:347.50px;top:345.20px" width="18.4" height="17.3" viewBox="0 0 18.4 17.3"><path d="M9.2 16.6C7.6 15.6 0.7 11.3 0.7 6.1C0.7 3.3 2.7 1.3 5.2 1.3C7 1.3 8.4 2 9.2 3.1C10 2 11.4 1.3 13.2 1.3C15.7 1.3 17.7 3.3 17.7 6.1C17.7 11.3 10.8 15.6 9.2 16.6Z"/></svg>
<svg class="h" style="left:370.80px;top:345.20px" width="18.4" height="17.3" viewBox="0 0 18.4 17.3"><path d="M9.2 16.6C7.6 15.6 0.7 11.3 0.7 6.1C0.7 3.3 2.7 1.3 5.2 1.3C7 1.3 8.4 2 9.2 3.1C10 2 11.4 1.3 13.2 1.3C15.7 1.3 17.7 3.3 17.7 6.1C17.7 11.3 10.8 15.6 9.2 16.6Z"/></svg>
<svg class="h" style="left:394.10px;top:345.20px" width="18.4" height="17.3" viewBox="0 0 18.4 17.3"><path d="M9.2 16.6C7.6 15.6 0.7 11.3 0.7 6.1C0.7 3.3 2.7 1.3 5.2 1.3C7 1.3 8.4 2 9.2 3.1C10 2 11.4 1.3 13.2 1.3C15.7 1.3 17.7 3.3 17.7 6.1C17.7 11.3 10.8 15.6 9.2 16.6Z"/></svg>
<svg class="h" style="left:417.40px;top:345.20px" width="18.4" height="17.3" viewBox="0 0 18.4 17.3"><path d="M9.2 16.6C7.6 15.6 0.7 11.3 0.7 6.1C0.7 3.3 2.7 1.3 5.2 1.3C7 1.3 8.4 2 9.2 3.1C10 2 11.4 1.3 13.2 1.3C15.7 1.3 17.7 3.3 17.7 6.1C17.7 11.3 10.8 15.6 9.2 16.6Z"/></svg>
<svg class="h" style="left:460.20px;top:345.20px" width="18.4" height="17.3" viewBox="0 0 18.4 17.3"><path d="M9.2 16.6C7.6 15.6 0.7 11.3 0.7 6.1C0.7 3.3 2.7 1.3 5.2 1.3C7 1.3 8.4 2 9.2 3.1C10 2 11.4 1.3 13.2 1.3C15.7 1.3 17.7 3.3 17.7 6.1C17.7 11.3 10.8 15.6 9.2 16.6Z"/></svg>
<svg class="h" style="left:483.50px;top:345.20px" width="18.4" height="17.3" viewBox="0 0 18.4 17.3"><path d="M9.2 16.6C7.6 15.6 0.7 11.3 0.7 6.1C0.7 3.3 2.7 1.3 5.2 1.3C7 1.3 8.4 2 9.2 3.1C10 2 11.4 1.3 13.2 1.3C15.7 1.3 17.7 3.3 17.7 6.1C17.7 11.3 10.8 15.6 9.2 16.6Z"/></svg>
<svg class="h" style="left:506.80px;top:345.20px" width="18.4" height="17.3" viewBox="0 0 18.4 17.3"><path d="M9.2 16.6C7.6 15.6 0.7 11.3 0.7 6.1C0.7 3.3 2.7 1.3 5.2 1.3C7 1.3 8.4 2 9.2 3.1C10 2 11.4 1.3 13.2 1.3C15.7 1.3 17.7 3.3 17.7 6.1C17.7 11.3 10.8 15.6 9.2 16.6Z"/></svg>
<svg class="h" style="left:530.10px;top:345.20px" width="18.4" height="17.3" viewBox="0 0 18.4 17.3"><path d="M9.2 16.6C7.6 15.6 0.7 11.3 0.7 6.1C0.7 3.3 2.7 1.3 5.2 1.3C7 1.3 8.4 2 9.2 3.1C10 2 11.4 1.3 13.2 1.3C15.7 1.3 17.7 3.3 17.7 6.1C17.7 11.3 10.8 15.6 9.2 16.6Z"/></svg>
<svg class="h" style="left:553.40px;top:345.20px" width="18.4" height="17.3" viewBox="0 0 18.4 17.3"><path d="M9.2 16.6C7.6 15.6 0.7 11.3 0.7 6.1C0.7 3.3 2.7 1.3 5.2 1.3C7 1.3 8.4 2 9.2 3.1C10 2 11.4 1.3 13.2 1.3C15.7 1.3 17.7 3.3 17.7 6.1C17.7 11.3 10.8 15.6 9.2 16.6Z"/></svg>
<svg class="h" style="left:596.20px;top:345.20px" width="18.4" height="17.3" viewBox="0 0 18.4 17.3"><path d="M9.2 16.6C7.6 15.6 0.7 11.3 0.7 6.1C0.7 3.3 2.7 1.3 5.2 1.3C7 1.3 8.4 2 9.2 3.1C10 2 11.4 1.3 13.2 1.3C15.7 1.3 17.7 3.3 17.7 6.1C17.7 11.3 10.8 15.6 9.2 16.6Z"/></svg>
<svg class="h" style="left:619.50px;top:345.20px" width="18.4" height="17.3" viewBox="0 0 18.4 17.3"><path d="M9.2 16.6C7.6 15.6 0.7 11.3 0.7 6.1C0.7 3.3 2.7 1.3 5.2 1.3C7 1.3 8.4 2 9.2 3.1C10 2 11.4 1.3 13.2 1.3C15.7 1.3 17.7 3.3 17.7 6.1C17.7 11.3 10.8 15.6 9.2 16.6Z"/></svg>
<svg class="h" style="left:642.80px;top:345.20px" width="18.4" height="17.3" viewBox="0 0 18.4 17.3"><path d="M9.2 16.6C7.6 15.6 0.7 11.3 0.7 6.1C0.7 3.3 2.7 1.3 5.2 1.3C7 1.3 8.4 2 9.2 3.1C10 2 11.4 1.3 13.2 1.3C15.7 1.3 17.7 3.3 17.7 6.1C17.7 11.3 10.8 15.6 9.2 16.6Z"/></svg>
<svg class="h" style="left:666.10px;top:345.20px" width="18.4" height="17.3" viewBox="0 0 18.4 17.3"><path d="M9.2 16.6C7.6 15.6 0.7 11.3 0.7 6.1C0.7 3.3 2.7 1.3 5.2 1.3C7 1.3 8.4 2 9.2 3.1C10 2 11.4 1.3 13.2 1.3C15.7 1.3 17.7 3.3 17.7 6.1C17.7 11.3 10.8 15.6 9.2 16.6Z"/></svg>
<svg class="h" style="left:689.40px;top:345.20px" width="18.4" height="17.3" viewBox="0 0 18.4 17.3"><path d="M9.2 16.6C7.6 15.6 0.7 11.3 0.7 6.1C0.7 3.3 2.7 1.3 5.2 1.3C7 1.3 8.4 2 9.2 3.1C10 2 11.4 1.3 13.2 1.3C15.7 1.3 17.7 3.3 17.7 6.1C17.7 11.3 10.8 15.6 9.2 16.6Z"/></svg>
<div class="nm" style="top:405.60px;letter-spacing:0.15px">Virgo</div>
<svg class="h" style="left:187.70px;top:396.25px" width="18.4" height="17.3" viewBox="0 0 18.4 17.3"><path d="M9.2 16.6C7.6 15.6 0.7 11.3 0.7 6.1C0.7 3.3 2.7 1.3 5.2 1.3C7 1.3 8.4 2 9.2 3.1C10 2 11.4 1.3 13.2 1.3C15.7 1.3 17.7 3.3 17.7 6.1C17.7 11.3 10.8 15.6 9.2 16.6Z"/></svg>
<svg class="h" style="left:211.00px;top:396.25px" width="18.4" height="17.3" viewBox="0 0 18.4 17.3"><path d="M9.2 16.6C7.6 15.6 0.7 11.3 0.7 6.1C0.7 3.3 2.7 1.3 5.2 1.3C7 1.3 8.4 2 9.2 3.1C10 2 11.4 1.3 13.2 1.3C15.7 1.3 17.7 3.3 17.7 6.1C17.7 11.3 10.8 15.6 9.2 16.6Z"/></svg>
<svg class="h" style="left:234.30px;top:396.25px" width="18.4" height="17.3" viewBox="0 0 18.4 17.3"><path d="M9.2 16.6C7.6 15.6 0.7 11.3 0.7 6.1C0.7 3.3 2.7 1.3 5.2 1.3C7 1.3 8.4 2 9.2 3.1C10 2 11.4 1.3 13.2 1.3C15.7 1.3 17.7 3.3 17.7 6.1C17.7 11.3 10.8 15.6 9.2 16.6Z"/></svg>
<svg class="e" style="left:257.60px;top:396.25px" width="18.4" height="17.3" viewBox="0 0 18.4 17.3"><path d="M9.2 16.6C7.6 15.6 0.7 11.3 0.7 6.1C0.7 3.3 2.7 1.3 5.2 1.3C7 1.3 8.4 2 9.2 3.1C10 2 11.4 1.3 13.2 1.3C15.7 1.3 17.7 3.3 17.7 6.1C17.7 11.3 10.8 15.6 9.2 16.6Z"/></svg>
<svg class="e" style="left:280.90px;top:396.25px" width="18.4" height="17.3" viewBox="0 0 18.4 17.3"><path d="M9.2 16.6C7.6 15.6 0.7 11.3 0.7 6.1C0.7 3.3 2.7 1.3 5.2 1.3C7 1.3 8.4 2 9.2 3.1C10 2 11.4 1.3 13.2 1.3C15.7 1.3 17.7 3.3 17.7 6.1C17.7 11.3 10.8 15.6 9.2 16.6Z"/></svg>
<svg class="h" style="left:324.20px;top:396.25px" width="18.4" height="17.3" viewBox="0 0 18.4 17.3"><path d="M9.2 16.6C7.6 15.6 0.7 11.3 0.7 6.1C0.7 3.3 2.7 1.3 5.2 1.3C7 1.3 8.4 2 9.2 3.1C10 2 11.4 1.3 13.2 1.3C15.7 1.3 17.7 3.3 17.7 6.1C17.7 11.3 10.8 15.6 9.2 16.6Z"/></svg>
<svg class="h" style="left:347.50px;top:396.25px" width="18.4" height="17.3" viewBox="0 0 18.4 17.3"><path d="M9.2 16.6C7.6 15.6 0.7 11.3 0.7 6.1C0.7 3.3 2.7 1.3 5.2 1.3C7 1.3 8.4 2 9.2 3.1C10 2 11.4 1.3 13.2 1.3C15.7 1.3 17.7 3.3 17.7 6.1C17.7 11.3 10.8 15.6 9.2 16.6Z"/></svg>
<svg class="h" style="left:370.80px;top:396.25px" width="18.4" height="17.3" viewBox="0 0 18.4 17.3"><path d="M9.2 16.6C7.6 15.6 0.7 11.3 0.7 6.1C0.7 3.3 2.7 1.3 5.2 1.3C7 1.3 8.4 2 9.2 3.1C10 2 11.4 1.3 13.2 1.3C15.7 1.3 17.7 3.3 17.7 6.1C17.7 11.3 10.8 15.6 9.2 16.6Z"/></svg>
<svg class="e" style="left:394.10px;top:396.25px" width="18.4" height="17.3" viewBox="0 0 18.4 17.3"><path d="M9.2 16.6C7.6 15.6 0.7 11.3 0.7 6.1C0.7 3.3 2.7 1.3 5.2 1.3C7 1.3 8.4 2 9.2 3.1C10 2 11.4 1.3 13.2 1.3C15.7 1.3 17.7 3.3 17.7 6.1C17.7 11.3 10.8 15.6 9.2 16.6Z"/></svg>
<svg class="e" style="left:417.40px;top:396.25px" width="18.4" height="17.3" viewBox="0 0 18.4 17.3"><path d="M9.2 16.6C7.6 15.6 0.7 11.3 0.7 6.1C0.7 3.3 2.7 1.3 5.2 1.3C7 1.3 8.4 2 9.2 3.1C10 2 11.4 1.3 13.2 1.3C15.7 1.3 17.7 3.3 17.7 6.1C17.7 11.3 10.8 15.6 9.2 16.6Z"/></svg>
<svg class="h" style="left:460.20px;top:396.25px" width="18.4" height="17.3" viewBox="0 0 18.4 17.3"><path d="M9.2 16.6C7.6 15.6 0.7 11.3 0.7 6.1C0.7 3.3 2.7 1.3 5.2 1.3C7 1.3 8.4 2 9.2 3.1C10 2 11.4 1.3 13.2 1.3C15.7 1.3 17.7 3.3 17.7 6.1C17.7 11.3 10.8 15.6 9.2 16.6Z"/></svg>
<svg class="h" style="left:483.50px;top:396.25px" width="18.4" height="17.3" viewBox="0 0 18.4 17.3"><path d="M9.2 16.6C7.6 15.6 0.7 11.3 0.7 6.1C0.7 3.3 2.7 1.3 5.2 1.3C7 1.3 8.4 2 9.2 3.1C10 2 11.4 1.3 13.2 1.3C15.7 1.3 17.7 3.3 17.7 6.1C17.7 11.3 10.8 15.6 9.2 16.6Z"/></svg>
<svg class="h" style="left:506.80px;top:396.25px" width="18.4" height="17.3" viewBox="0 0 18.4 17.3"><path d="M9.2 16.6C7.6 15.6 0.7 11.3 0.7 6.1C0.7 3.3 2.7 1.3 5.2 1.3C7 1.3 8.4 2 9.2 3.1C10 2 11.4 1.3 13.2 1.3C15.7 1.3 17.7 3.3 17.7 6.1C17.7 11.3 10.8 15.6 9.2 16.6Z"/></svg>
<svg class="e" style="left:530.10px;top:396.25px" width="18.4" height="17.3" viewBox="0 0 18.4 17.3"><path d="M9.2 16.6C7.6 15.6 0.7 11.3 0.7 6.1C0.7 3.3 2.7 1.3 5.2 1.3C7 1.3 8.4 2 9.2 3.1C10 2 11.4 1.3 13.2 1.3C15.7 1.3 17.7 3.3 17.7 6.1C17.7 11.3 10.8 15.6 9.2 16.6Z"/></svg>
<svg class="e" style="left:553.40px;top:396.25px" width="18.4" height="17.3" viewBox="0 0 18.4 17.3"><path d="M9.2 16.6C7.6 15.6 0.7 11.3 0.7 6.1C0.7 3.3 2.7 1.3 5.2 1.3C7 1.3 8.4 2 9.2 3.1C10 2 11.4 1.3 13.2 1.3C15.7 1.3 17.7 3.3 17.7 6.1C17.7 11.3 10.8 15.6 9.2 16.6Z"/></svg>
<svg class="h" style="left:596.20px;top:396.25px" width="18.4" height="17.3" viewBox="0 0 18.4 17.3"><path d="M9.2 16.6C7.6 15.6 0.7 11.3 0.7 6.1C0.7 3.3 2.7 1.3 5.2 1.3C7 1.3 8.4 2 9.2 3.1C10 2 11.4 1.3 13.2 1.3C15.7 1.3 17.7 3.3 17.7 6.1C17.7 11.3 10.8 15.6 9.2 16.6Z"/></svg>
<svg class="h" style="left:619.50px;top:396.25px" width="18.4" height="17.3" viewBox="0 0 18.4 17.3"><path d="M9.2 16.6C7.6 15.6 0.7 11.3 0.7 6.1C0.7 3.3 2.7 1.3 5.2 1.3C7 1.3 8.4 2 9.2 3.1C10 2 11.4 1.3 13.2 1.3C15.7 1.3 17.7 3.3 17.7 6.1C17.7 11.3 10.8 15.6 9.2 16.6Z"/></svg>
<svg class="h" style="left:642.80px;top:396.25px" width="18.4" height="17.3" viewBox="0 0 18.4 17.3"><path d="M9.2 16.6C7.6 15.6 0.7 11.3 0.7 6.1C0.7 3.3 2.7 1.3 5.2 1.3C7 1.3 8.4 2 9.2 3.1C10 2 11.4 1.3 13.2 1.3C15.7 1.3 17.7 3.3 17.7 6.1C17.7 11.3 10.8 15.6 9.2 16.6Z"/></svg>
<svg class="h" style="left:666.10px;top:396.25px" width="18.4" height="17.3" viewBox="0 0 18.4 17.3"><path d="M9.2 16.6C7.6 15.6 0.7 11.3 0.7 6.1C0.7 3.3 2.7 1.3 5.2 1.3C7 1.3 8.4 2 9.2 3.1C10 2 11.4 1.3 13.2 1.3C15.7 1.3 17.7 3.3 17.7 6.1C17.7 11.3 10.8 15.6 9.2 16.6Z"/></svg>
<svg class="e" style="left:689.40px;top:396.25px" width="18.4" height="17.3" viewBox="0 0 18.4 17.3"><path d="M9.2 16.6C7.6 15.6 0.7 11.3 0.7 6.1C0.7 3.3 2.7 1.3 5.2 1.3C7 1.3 8.4 2 9.2 3.1C10 2 11.4 1.3 13.2 1.3C15.7 1.3 17.7 3.3 17.7 6.1C17.7 11.3 10.8 15.6 9.2 16.6Z"/></svg>
<div class="nm" style="top:456.60px;letter-spacing:-0.2px">Libra</div>
<svg class="h" style="left:187.70px;top:447.30px" width="18.4" height="17.3" viewBox="0 0 18.4 17.3"><path d="M9.2 16.6C7.6 15.6 0.7 11.3 0.7 6.1C0.7 3.3 2.7 1.3 5.2 1.3C7 1.3 8.4 2 9.2 3.1C10 2 11.4 1.3 13.2 1.3C15.7 1.3 17.7 3.3 17.7 6.1C17.7 11.3 10.8 15.6 9.2 16.6Z"/></svg>
<svg class="h" style="left:211.00px;top:447.30px" width="18.4" height="17.3" viewBox="0 0 18.4 17.3"><path d="M9.2 16.6C7.6 15.6 0.7 11.3 0.7 6.1C0.7 3.3 2.7 1.3 5.2 1.3C7 1.3 8.4 2 9.2 3.1C10 2 11.4 1.3 13.2 1.3C15.7 1.3 17.7 3.3 17.7 6.1C17.7 11.3 10.8 15.6 9.2 16.6Z"/></svg>
<svg class="h" style="left:234.30px;top:447.30px" width="18.4" height="17.3" viewBox="0 0 18.4 17.3"><path d="M9.2 16.6C7.6 15.6 0.7 11.3 0.7 6.1C0.7 3.3 2.7 1.3 5.2 1.3C7 1.3 8.4 2 9.2 3.1C10 2 11.4 1.3 13.2 1.3C15.7 1.3 17.7 3.3 17.7 6.1C17.7 11.3 10.8 15.6 9.2 16.6Z"/></svg>
<svg class="h" style="left:257.60px;top:447.30px" width="18.4" height="17.3" viewBox="0 0 18.4 17.3"><path d="M9.2 16.6C7.6 15.6 0.7 11.3 0.7 6.1C0.7 3.3 2.7 1.3 5.2 1.3C7 1.3 8.4 2 9.2 3.1C10 2 11.4 1.3 13.2 1.3C15.7 1.3 17.7 3.3 17.7 6.1C17.7 11.3 10.8 15.6 9.2 16.6Z"/></svg>
<svg class="e" style="left:280.90px;top:447.30px" width="18.4" height="17.3" viewBox="0 0 18.4 17.3"><path d="M9.2 16.6C7.6 15.6 0.7 11.3 0.7 6.1C0.7 3.3 2.7 1.3 5.2 1.3C7 1.3 8.4 2 9.2 3.1C10 2 11.4 1.3 13.2 1.3C15.7 1.3 17.7 3.3 17.7 6.1C17.7 11.3 10.8 15.6 9.2 16.6Z"/></svg>
<svg class="h" style="left:324.20px;top:447.30px" width="18.4" height="17.3" viewBox="0 0 18.4 17.3"><path d="M9.2 16.6C7.6 15.6 0.7 11.3 0.7 6.1C0.7 3.3 2.7 1.3 5.2 1.3C7 1.3 8.4 2 9.2 3.1C10 2 11.4 1.3 13.2 1.3C15.7 1.3 17.7 3.3 17.7 6.1C17.7 11.3 10.8 15.6 9.2 16.6Z"/></svg>
<svg class="h" style="left:347.50px;top:447.30px" width="18.4" height="17.3" viewBox="0 0 18.4 17.3"><path d="M9.2 16.6C7.6 15.6 0.7 11.3 0.7 6.1C0.7 3.3 2.7 1.3 5.2 1.3C7 1.3 8.4 2 9.2 3.1C10 2 11.4 1.3 13.2 1.3C15.7 1.3 17.7 3.3 17.7 6.1C17.7 11.3 10.8 15.6 9.2 16.6Z"/></svg>
<svg class="h" style="left:370.80px;top:447.30px" width="18.4" height="17.3" viewBox="0 0 18.4 17.3"><path d="M9.2 16.6C7.6 15.6 0.7 11.3 0.7 6.1C0.7 3.3 2.7 1.3 5.2 1.3C7 1.3 8.4 2 9.2 3.1C10 2 11.4 1.3 13.2 1.3C15.7 1.3 17.7 3.3 17.7 6.1C17.7 11.3 10.8 15.6 9.2 16.6Z"/></svg>
<svg class="e" style="left:394.10px;top:447.30px" width="18.4" height="17.3" viewBox="0 0 18.4 17.3"><path d="M9.2 16.6C7.6 15.6 0.7 11.3 0.7 6.1C0.7 3.3 2.7 1.3 5.2 1.3C7 1.3 8.4 2 9.2 3.1C10 2 11.4 1.3 13.2 1.3C15.7 1.3 17.7 3.3 17.7 6.1C17.7 11.3 10.8 15.6 9.2 16.6Z"/></svg>
<svg class="e" style="left:417.40px;top:447.30px" width="18.4" height="17.3" viewBox="0 0 18.4 17.3"><path d="M9.2 16.6C7.6 15.6 0.7 11.3 0.7 6.1C0.7 3.3 2.7 1.3 5.2 1.3C7 1.3 8.4 2 9.2 3.1C10 2 11.4 1.3 13.2 1.3C15.7 1.3 17.7 3.3 17.7 6.1C17.7 11.3 10.8 15.6 9.2 16.6Z"/></svg>
<svg class="h" style="left:460.20px;top:447.30px" width="18.4" height="17.3" viewBox="0 0 18.4 17.3"><path d="M9.2 16.6C7.6 15.6 0.7 11.3 0.7 6.1C0.7 3.3 2.7 1.3 5.2 1.3C7 1.3 8.4 2 9.2 3.1C10 2 11.4 1.3 13.2 1.3C15.7 1.3 17.7 3.3 17.7 6.1C17.7 11.3 10.8 15.6 9.2 16.6Z"/></svg>
<svg class="h" style="left:483.50px;top:447.30px" width="18.4" height="17.3" viewBox="0 0 18.4 17.3"><path d="M9.2 16.6C7.6 15.6 0.7 11.3 0.7 6.1C0.7 3.3 2.7 1.3 5.2 1.3C7 1.3 8.4 2 9.2 3.1C10 2 11.4 1.3 13.2 1.3C15.7 1.3 17.7 3.3 17.7 6.1C17.7 11.3 10.8 15.6 9.2 16.6Z"/></svg>
<svg class="h" style="left:506.80px;top:447.30px" width="18.4" height="17.3" viewBox="0 0 18.4 17.3"><path d="M9.2 16.6C7.6 15.6 0.7 11.3 0.7 6.1C0.7 3.3 2.7 1.3 5.2 1.3C7 1.3 8.4 2 9.2 3.1C10 2 11.4 1.3 13.2 1.3C15.7 1.3 17.7 3.3 17.7 6.1C17.7 11.3 10.8 15.6 9.2 16.6Z"/></svg>
<svg class="h" style="left:530.10px;top:447.30px" width="18.4" height="17.3" viewBox="0 0 18.4 17.3"><path d="M9.2 16.6C7.6 15.6 0.7 11.3 0.7 6.1C0.7 3.3 2.7 1.3 5.2 1.3C7 1.3 8.4 2 9.2 3.1C10 2 11.4 1.3 13.2 1.3C15.7 1.3 17.7 3.3 17.7 6.1C17.7 11.3 10.8 15.6 9.2 16.6Z"/></svg>
<svg class="e" style="left:553.40px;top:447.30px" width="18.4" height="17.3" viewBox="0 0 18.4 17.3"><path d="M9.2 16.6C7.6 15.6 0.7 11.3 0.7 6.1C0.7 3.3 2.7 1.3 5.2 1.3C7 1.3 8.4 2 9.2 3.1C10 2 11.4 1.3 13.2 1.3C15.7 1.3 17.7 3.3 17.7 6.1C17.7 11.3 10.8 15.6 9.2 16.6Z"/></svg>
<svg class="h" style="left:596.20px;top:447.30px" width="18.4" height="17.3" viewBox="0 0 18.4 17.3"><path d="M9.2 16.6C7.6 15.6 0.7 11.3 0.7 6.1C0.7 3.3 2.7 1.3 5.2 1.3C7 1.3 8.4 2 9.2 3.1C10 2 11.4 1.3 13.2 1.3C15.7 1.3 17.7 3.3 17.7 6.1C17.7 11.3 10.8 15.6 9.2 16.6Z"/></svg>
<svg class="h" style="left:619.50px;top:447.30px" width="18.4" height="17.3" viewBox="0 0 18.4 17.3"><path d="M9.2 16.6C7.6 15.6 0.7 11.3 0.7 6.1C0.7 3.3 2.7 1.3 5.2 1.3C7 1.3 8.4 2 9.2 3.1C10 2 11.4 1.3 13.2 1.3C15.7 1.3 17.7 3.3 17.7 6.1C17.7 11.3 10.8 15.6 9.2 16.6Z"/></svg>
<svg class="h" style="left:642.80px;top:447.30px" width="18.4" height="17.3" viewBox="0 0 18.4 17.3"><path d="M9.2 16.6C7.6 15.6 0.7 11.3 0.7 6.1C0.7 3.3 2.7 1.3 5.2 1.3C7 1.3 8.4 2 9.2 3.1C10 2 11.4 1.3 13.2 1.3C15.7 1.3 17.7 3.3 17.7 6.1C17.7 11.3 10.8 15.6 9.2 16.6Z"/></svg>
<svg class="h" style="left:666.10px;top:447.30px" width="18.4" height="17.3" viewBox="0 0 18.4 17.3"><path d="M9.2 16.6C7.6 15.6 0.7 11.3 0.7 6.1C0.7 3.3 2.7 1.3 5.2 1.3C7 1.3 8.4 2 9.2 3.1C10 2 11.4 1.3 13.2 1.3C15.7 1.3 17.7 3.3 17.7 6.1C17.7 11.3 10.8 15.6 9.2 16.6Z"/></svg>
<svg class="e" style="left:689.40px;top:447.30px" width="18.4" height="17.3" viewBox="0 0 18.4 17.3"><path d="M9.2 16.6C7.6 15.6 0.7 11.3 0.7 6.1C0.7 3.3 2.7 1.3 5.2 1.3C7 1.3 8.4 2 9.2 3.1C10 2 11.4 1.3 13.2 1.3C15.7 1.3 17.7 3.3 17.7 6.1C17.7 11.3 10.8 15.6 9.2 16.6Z"/></svg>
<div class="nm" style="top:507.60px;letter-spacing:-0.15px">Scorpio</div>
<svg class="h" style="left:187.70px;top:498.35px" width="18.4" height="17.3" viewBox="0 0 18.4 17.3"><path d="M9.2 16.6C7.6 15.6 0.7 11.3 0.7 6.1C0.7 3.3 2.7 1.3 5.2 1.3C7 1.3 8.4 2 9.2 3.1C10 2 11.4 1.3 13.2 1.3C15.7 1.3 17.7 3.3 17.7 6.1C17.7 11.3 10.8 15.6 9.2 16.6Z"/></svg>
<svg class="h" style="left:211.00px;top:498.35px" width="18.4" height="17.3" viewBox="0 0 18.4 17.3"><path d="M9.2 16.6C7.6 15.6 0.7 11.3 0.7 6.1C0.7 3.3 2.7 1.3 5.2 1.3C7 1.3 8.4 2 9.2 3.1C10 2 11.4 1.3 13.2 1.3C15.7 1.3 17.7 3.3 17.7 6.1C17.7 11.3 10.8 15.6 9.2 16.6Z"/></svg>
<svg class="e" style="left:234.30px;top:498.35px" width="18.4" height="17.3" viewBox="0 0 18.4 17.3"><path d="M9.2 16.6C7.6 15.6 0.7 11.3 0.7 6.1C0.7 3.3 2.7 1.3 5.2 1.3C7 1.3 8.4 2 9.2 3.1C10 2 11.4 1.3 13.2 1.3C15.7 1.3 17.7 3.3 17.7 6.1C17.7 11.3 10.8 15.6 9.2 16.6Z"/></svg>
<svg class="e" style="left:257.60px;top:498.35px" width="18.4" height="17.3" viewBox="0 0 18.4 17.3"><path d="M9.2 16.6C7.6 15.6 0.7 11.3 0.7 6.1C0.7 3.3 2.7 1.3 5.2 1.3C7 1.3 8.4 2 9.2 3.1C10 2 11.4 1.3 13.2 1.3C15.7 1.3 17.7 3.3 17.7 6.1C17.7 11.3 10.8 15.6 9.2 16.6Z"/></svg>
<svg class="e" style="left:280.90px;top:498.35px" width="18.4" height="17.3" viewBox="0 0 18.4 17.3"><path d="M9.2 16.6C7.6 15.6 0.7 11.3 0.7 6.1C0.7 3.3 2.7 1.3 5.2 1.3C7 1.3 8.4 2 9.2 3.1C10 2 11.4 1.3 13.2 1.3C15.7 1.3 17.7 3.3 17.7 6.1C17.7 11.3 10.8 15.6 9.2 16.6Z"/></svg>
<svg class="h" style="left:324.20px;top:498.35px" width="18.4" height="17.3" viewBox="0 0 18.4 17.3"><path d="M9.2 16.6C7.6 15.6 0.7 11.3 0.7 6.1C0.7 3.3 2.7 1.3 5.2 1.3C7 1.3 8.4 2 9.2 3.1C10 2 11.4 1.3 13.2 1.3C15.7 1.3 17.7 3.3 17.7 6.1C17.7 11.3 10.8 15.6 9.2 16.6Z"/></svg>
<svg class="h" style="left:347.50px;top:498.35px" width="18.4" height="17.3" viewBox="0 0 18.4 17.3"><path d="M9.2 16.6C7.6 15.6 0.7 11.3 0.7 6.1C0.7 3.3 2.7 1.3 5.2 1.3C7 1.3 8.4 2 9.2 3.1C10 2 11.4 1.3 13.2 1.3C15.7 1.3 17.7 3.3 17.7 6.1C17.7 11.3 10.8 15.6 9.2 16.6Z"/></svg>
<svg class="e" style="left:370.80px;top:498.35px" width="18.4" height="17.3" viewBox="0 0 18.4 17.3"><path d="M9.2 16.6C7.6 15.6 0.7 11.3 0.7 6.1C0.7 3.3 2.7 1.3 5.2 1.3C7 1.3 8.4 2 9.2 3.1C10 2 11.4 1.3 13.2 1.3C15.7 1.3 17.7 3.3 17.7 6.1C17.7 11.3 10.8 15.6 9.2 16.6Z"/></svg>
<svg class="e" style="left:394.10px;top:498.35px" width="18.4" height="17.3" viewBox="0 0 18.4 17.3"><path d="M9.2 16.6C7.6 15.6 0.7 11.3 0.7 6.1C0.7 3.3 2.7 1.3 5.2 1.3C7 1.3 8.4 2 9.2 3.1C10 2 11.4 1.3 13.2 1.3C15.7 1.3 17.7 3.3 17.7 6.1C17.7 11.3 10.8 15.6 9.2 16.6Z"/></svg>
<svg class="e" style="left:417.40px;top:498.35px" width="18.4" height="17.3" viewBox="0 0 18.4 17.3"><path d="M9.2 16.6C7.6 15.6 0.7 11.3 0.7 6.1C0.7 3.3 2.7 1.3 5.2 1.3C7 1.3 8.4 2 9.2 3.1C10 2 11.4 1.3 13.2 1.3C15.7 1.3 17.7 3.3 17.7 6.1C17.7 11.3 10.8 15.6 9.2 16.6Z"/></svg>
<svg class="h" style="left:460.20px;top:498.35px" width="18.4" height="17.3" viewBox="0 0 18.4 17.3"><path d="M9.2 16.6C7.6 15.6 0.7 11.3 0.7 6.1C0.7 3.3 2.7 1.3 5.2 1.3C7 1.3 8.4 2 9.2 3.1C10 2 11.4 1.3 13.2 1.3C15.7 1.3 17.7 3.3 17.7 6.1C17.7 11.3 10.8 15.6 9.2 16.6Z"/></svg>
<svg class="h" style="left:483.50px;top:498.35px" width="18.4" height="17.3" viewBox="0 0 18.4 17.3"><path d="M9.2 16.6C7.6 15.6 0.7 11.3 0.7 6.1C0.7 3.3 2.7 1.3 5.2 1.3C7 1.3 8.4 2 9.2 3.1C10 2 11.4 1.3 13.2 1.3C15.7 1.3 17.7 3.3 17.7 6.1C17.7 11.3 10.8 15.6 9.2 16.6Z"/></svg>
<svg class="e" style="left:506.80px;top:498.35px" width="18.4" height="17.3" viewBox="0 0 18.4 17.3"><path d="M9.2 16.6C7.6 15.6 0.7 11.3 0.7 6.1C0.7 3.3 2.7 1.3 5.2 1.3C7 1.3 8.4 2 9.2 3.1C10 2 11.4 1.3 13.2 1.3C15.7 1.3 17.7 3.3 17.7 6.1C17.7 11.3 10.8 15.6 9.2 16.6Z"/></svg>
<svg class="e" style="left:530.10px;top:498.35px" width="18.4" height="17.3" viewBox="0 0 18.4 17.3"><path d="M9.2 16.6C7.6 15.6 0.7 11.3 0.7 6.1C0.7 3.3 2.7 1.3 5.2 1.3C7 1.3 8.4 2 9.2 3.1C10 2 11.4 1.3 13.2 1.3C15.7 1.3 17.7 3.3 17.7 6.1C17.7 11.3 10.8 15.6 9.2 16.6Z"/></svg>
<svg class="e" style="left:553.40px;top:498.35px" width="18.4" height="17.3" viewBox="0 0 18.4 17.3"><path d="M9.2 16.6C7.6 15.6 0.7 11.3 0.7 6.1C0.7 3.3 2.7 1.3 5.2 1.3C7 1.3 8.4 2 9.2 3.1C10 2 11.4 1.3 13.2 1.3C15.7 1.3 17.7 3.3 17.7 6.1C17.7 11.3 10.8 15.6 9.2 16.6Z"/></svg>
<svg class="h" style="left:596.20px;top:498.35px" width="18.4" height="17.3" viewBox="0 0 18.4 17.3"><path d="M9.2 16.6C7.6 15.6 0.7 11.3 0.7 6.1C0.7 3.3 2.7 1.3 5.2 1.3C7 1.3 8.4 2 9.2 3.1C10 2 11.4 1.3 13.2 1.3C15.7 1.3 17.7 3.3 17.7 6.1C17.7 11.3 10.8 15.6 9.2 16.6Z"/></svg>
<svg class="e" style="left:619.50px;top:498.35px" width="18.4" height="17.3" viewBox="0 0 18.4 17.3"><path d="M9.2 16.6C7.6 15.6 0.7 11.3 0.7 6.1C0.7 3.3 2.7 1.3 5.2 1.3C7 1.3 8.4 2 9.2 3.1C10 2 11.4 1.3 13.2 1.3C15.7 1.3 17.7 3.3 17.7 6.1C17.7 11.3 10.8 15.6 9.2 16.6Z"/></svg>
<svg class="e" style="left:642.80px;top:498.35px" width="18.4" height="17.3" viewBox="0 0 18.4 17.3"><path d="M9.2 16.6C7.6 15.6 0.7 11.3 0.7 6.1C0.7 3.3 2.7 1.3 5.2 1.3C7 1.3 8.4 2 9.2 3.1C10 2 11.4 1.3 13.2 1.3C15.7 1.3 17.7 3.3 17.7 6.1C17.7 11.3 10.8 15.6 9.2 16.6Z"/></svg>
<svg class="e" style="left:666.10px;top:498.35px" width="18.4" height="17.3" viewBox="0 0 18.4 17.3"><path d="M9.2 16.6C7.6 15.6 0.7 11.3 0.7 6.1C0.7 3.3 2.7 1.3 5.2 1.3C7 1.3 8.4 2 9.2 3.1C10 2 11.4 1.3 13.2 1.3C15.7 1.3 17.7 3.3 17.7 6.1C17.7 11.3 10.8 15.6 9.2 16.6Z"/></svg>
<svg class="e" style="left:689.40px;top:498.35px" width="18.4" height="17.3" viewBox="0 0 18.4 17.3"><path d="M9.2 16.6C7.6 15.6 0.7 11.3 0.7 6.1C0.7 3.3 2.7 1.3 5.2 1.3C7 1.3 8.4 2 9.2 3.1C10 2 11.4 1.3 13.2 1.3C15.7 1.3 17.7 3.3 17.7 6.1C17.7 11.3 10.8 15.6 9.2 16.6Z"/></svg>
<div class="nm" style="top:558.60px;letter-spacing:0.4px">Sagittarius</div>
<svg class="h" style="left:187.70px;top:549.40px" width="18.4" height="17.3" viewBox="0 0 18.4 17.3"><path d="M9.2 16.6C7.6 15.6 0.7 11.3 0.7 6.1C0.7 3.3 2.7 1.3 5.2 1.3C7 1.3 8.4 2 9.2 3.1C10 2 11.4 1.3 13.2 1.3C15.7 1.3 17.7 3.3 17.7 6.1C17.7 11.3 10.8 15.6 9.2 16.6Z"/></svg>
<svg class="h" style="left:211.00px;top:549.40px" width="18.4" height="17.3" viewBox="0 0 18.4 17.3"><path d="M9.2 16.6C7.6 15.6 0.7 11.3 0.7 6.1C0.7 3.3 2.7 1.3 5.2 1.3C7 1.3 8.4 2 9.2 3.1C10 2 11.4 1.3 13.2 1.3C15.7 1.3 17.7 3.3 17.7 6.1C17.7 11.3 10.8 15.6 9.2 16.6Z"/></svg>
<svg class="h" style="left:234.30px;top:549.40px" width="18.4" height="17.3" viewBox="0 0 18.4 17.3"><path d="M9.2 16.6C7.6 15.6 0.7 11.3 0.7 6.1C0.7 3.3 2.7 1.3 5.2 1.3C7 1.3 8.4 2 9.2 3.1C10 2 11.4 1.3 13.2 1.3C15.7 1.3 17.7 3.3 17.7 6.1C17.7 11.3 10.8 15.6 9.2 16.6Z"/></svg>
<svg class="h" style="left:257.60px;top:549.40px" width="18.4" height="17.3" viewBox="0 0 18.4 17.3"><path d="M9.2 16.6C7.6 15.6 0.7 11.3 0.7 6.1C0.7 3.3 2.7 1.3 5.2 1.3C7 1.3 8.4 2 9.2 3.1C10 2 11.4 1.3 13.2 1.3C15.7 1.3 17.7 3.3 17.7 6.1C17.7 11.3 10.8 15.6 9.2 16.6Z"/></svg>
<svg class="e" style="left:280.90px;top:549.40px" width="18.4" height="17.3" viewBox="0 0 18.4 17.3"><path d="M9.2 16.6C7.6 15.6 0.7 11.3 0.7 6.1C0.7 3.3 2.7 1.3 5.2 1.3C7 1.3 8.4 2 9.2 3.1C10 2 11.4 1.3 13.2 1.3C15.7 1.3 17.7 3.3 17.7 6.1C17.7 11.3 10.8 15.6 9.2 16.6Z"/></svg>
<svg class="h" style="left:324.20px;top:549.40px" width="18.4" height="17.3" viewBox="0 0 18.4 17.3"><path d="M9.2 16.6C7.6 15.6 0.7 11.3 0.7 6.1C0.7 3.3 2.7 1.3 5.2 1.3C7 1.3 8.4 2 9.2 3.1C10 2 11.4 1.3 13.2 1.3C15.7 1.3 17.7 3.3 17.7 6.1C17.7 11.3 10.8 15.6 9.2 16.6Z"/></svg>
<svg class="h" style="left:347.50px;top:549.40px" width="18.4" height="17.3" viewBox="0 0 18.4 17.3"><path d="M9.2 16.6C7.6 15.6 0.7 11.3 0.7 6.1C0.7 3.3 2.7 1.3 5.2 1.3C7 1.3 8.4 2 9.2 3.1C10 2 11.4 1.3 13.2 1.3C15.7 1.3 17.7 3.3 17.7 6.1C17.7 11.3 10.8 15.6 9.2 16.6Z"/></svg>
<svg class="h" style="left:370.80px;top:549.40px" width="18.4" height="17.3" viewBox="0 0 18.4 17.3"><path d="M9.2 16.6C7.6 15.6 0.7 11.3 0.7 6.1C0.7 3.3 2.7 1.3 5.2 1.3C7 1.3 8.4 2 9.2 3.1C10 2 11.4 1.3 13.2 1.3C15.7 1.3 17.7 3.3 17.7 6.1C17.7 11.3 10.8 15.6 9.2 16.6Z"/></svg>
<svg class="h" style="left:394.10px;top:549.40px" width="18.4" height="17.3" viewBox="0 0 18.4 17.3"><path d="M9.2 16.6C7.6 15.6 0.7 11.3 0.7 6.1C0.7 3.3 2.7 1.3 5.2 1.3C7 1.3 8.4 2 9.2 3.1C10 2 11.4 1.3 13.2 1.3C15.7 1.3 17.7 3.3 17.7 6.1C17.7 11.3 10.8 15.6 9.2 16.6Z"/></svg>
<svg class="h" style="left:417.40px;top:549.40px" width="18.4" height="17.3" viewBox="0 0 18.4 17.3"><path d="M9.2 16.6C7.6 15.6 0.7 11.3 0.7 6.1C0.7 3.3 2.7 1.3 5.2 1.3C7 1.3 8.4 2 9.2 3.1C10 2 11.4 1.3 13.2 1.3C15.7 1.3 17.7 3.3 17.7 6.1C17.7 11.3 10.8 15.6 9.2 16.6Z"/></svg>
<svg class="h" style="left:460.20px;top:549.40px" width="18.4" height="17.3" viewBox="0 0 18.4 17.3"><path d="M9.2 16.6C7.6 15.6 0.7 11.3 0.7 6.1C0.7 3.3 2.7 1.3 5.2 1.3C7 1.3 8.4 2 9.2 3.1C10 2 11.4 1.3 13.2 1.3C15.7 1.3 17.7 3.3 17.7 6.1C17.7 11.3 10.8 15.6 9.2 16.6Z"/></svg>
<svg class="h" style="left:483.50px;top:549.40px" width="18.4" height="17.3" viewBox="0 0 18.4 17.3"><path d="M9.2 16.6C7.6 15.6 0.7 11.3 0.7 6.1C0.7 3.3 2.7 1.3 5.2 1.3C7 1.3 8.4 2 9.2 3.1C10 2 11.4 1.3 13.2 1.3C15.7 1.3 17.7 3.3 17.7 6.1C17.7 11.3 10.8 15.6 9.2 16.6Z"/></svg>
<svg class="h" style="left:506.80px;top:549.40px" width="18.4" height="17.3" viewBox="0 0 18.4 17.3"><path d="M9.2 16.6C7.6 15.6 0.7 11.3 0.7 6.1C0.7 3.3 2.7 1.3 5.2 1.3C7 1.3 8.4 2 9.2 3.1C10 2 11.4 1.3 13.2 1.3C15.7 1.3 17.7 3.3 17.7 6.1C17.7 11.3 10.8 15.6 9.2 16.6Z"/></svg>
<svg class="h" style="left:530.10px;top:549.40px" width="18.4" height="17.3" viewBox="0 0 18.4 17.3"><path d="M9.2 16.6C7.6 15.6 0.7 11.3 0.7 6.1C0.7 3.3 2.7 1.3 5.2 1.3C7 1.3 8.4 2 9.2 3.1C10 2 11.4 1.3 13.2 1.3C15.7 1.3 17.7 3.3 17.7 6.1C17.7 11.3 10.8 15.6 9.2 16.6Z"/></svg>
<svg class="e" style="left:553.40px;top:549.40px" width="18.4" height="17.3" viewBox="0 0 18.4 17.3"><path d="M9.2 16.6C7.6 15.6 0.7 11.3 0.7 6.1C0.7 3.3 2.7 1.3 5.2 1.3C7 1.3 8.4 2 9.2 3.1C10 2 11.4 1.3 13.2 1.3C15.7 1.3 17.7 3.3 17.7 6.1C17.7 11.3 10.8 15.6 9.2 16.6Z"/></svg>
<svg class="h" style="left:596.20px;top:549.40px" width="18.4" height="17.3" viewBox="0 0 18.4 17.3"><path d="M9.2 16.6C7.6 15.6 0.7 11.3 0.7 6.1C0.7 3.3 2.7 1.3 5.2 1.3C7 1.3 8.4 2 9.2 3.1C10 2 11.4 1.3 13.2 1.3C15.7 1.3 17.7 3.3 17.7 6.1C17.7 11.3 10.8 15.6 9.2 16.6Z"/></svg>
<svg class="h" style="left:619.50px;top:549.40px" width="18.4" height="17.3" viewBox="0 0 18.4 17.3"><path d="M9.2 16.6C7.6 15.6 0.7 11.3 0.7 6.1C0.7 3.3 2.7 1.3 5.2 1.3C7 1.3 8.4 2 9.2 3.1C10 2 11.4 1.3 13.2 1.3C15.7 1.3 17.7 3.3 17.7 6.1C17.7 11.3 10.8 15.6 9.2 16.6Z"/></svg>
<svg class="h" style="left:642.80px;top:549.40px" width="18.4" height="17.3" viewBox="0 0 18.4 17.3"><path d="M9.2 16.6C7.6 15.6 0.7 11.3 0.7 6.1C0.7 3.3 2.7 1.3 5.2 1.3C7 1.3 8.4 2 9.2 3.1C10 2 11.4 1.3 13.2 1.3C15.7 1.3 17.7 3.3 17.7 6.1C17.7 11.3 10.8 15.6 9.2 16.6Z"/></svg>
<svg class="e" style="left:666.10px;top:549.40px" width="18.4" height="17.3" viewBox="0 0 18.4 17.3"><path d="M9.2 16.6C7.6 15.6 0.7 11.3 0.7 6.1C0.7 3.3 2.7 1.3 5.2 1.3C7 1.3 8.4 2 9.2 3.1C10 2 11.4 1.3 13.2 1.3C15.7 1.3 17.7 3.3 17.7 6.1C17.7 11.3 10.8 15.6 9.2 16.6Z"/></svg>
<svg class="e" style="left:689.40px;top:549.40px" width="18.4" height="17.3" viewBox="0 0 18.4 17.3"><path d="M9.2 16.6C7.6 15.6 0.7 11.3 0.7 6.1C0.7 3.3 2.7 1.3 5.2 1.3C7 1.3 8.4 2 9.2 3.1C10 2 11.4 1.3 13.2 1.3C15.7 1.3 17.7 3.3 17.7 6.1C17.7 11.3 10.8 15.6 9.2 16.6Z"/></svg>
<div class="nm" style="top:609.60px;letter-spacing:0.19px">Capricorn</div>
<svg class="h" style="left:187.70px;top:600.45px" width="18.4" height="17.3" viewBox="0 0 18.4 17.3"><path d="M9.2 16.6C7.6 15.6 0.7 11.3 0.7 6.1C0.7 3.3 2.7 1.3 5.2 1.3C7 1.3 8.4 2 9.2 3.1C10 2 11.4 1.3 13.2 1.3C15.7 1.3 17.7 3.3 17.7 6.1C17.7 11.3 10.8 15.6 9.2 16.6Z"/></svg>
<svg class="h" style="left:211.00px;top:600.45px" width="18.4" height="17.3" viewBox="0 0 18.4 17.3"><path d="M9.2 16.6C7.6 15.6 0.7 11.3 0.7 6.1C0.7 3.3 2.7 1.3 5.2 1.3C7 1.3 8.4 2 9.2 3.1C10 2 11.4 1.3 13.2 1.3C15.7 1.3 17.7 3.3 17.7 6.1C17.7 11.3 10.8 15.6 9.2 16.6Z"/></svg>
<svg class="h" style="left:234.30px;top:600.45px" width="18.4" height="17.3" viewBox="0 0 18.4 17.3"><path d="M9.2 16.6C7.6 15.6 0.7 11.3 0.7 6.1C0.7 3.3 2.7 1.3 5.2 1.3C7 1.3 8.4 2 9.2 3.1C10 2 11.4 1.3 13.2 1.3C15.7 1.3 17.7 3.3 17.7 6.1C17.7 11.3 10.8 15.6 9.2 16.6Z"/></svg>
<svg class="e" style="left:257.60px;top:600.45px" width="18.4" height="17.3" viewBox="0 0 18.4 17.3"><path d="M9.2 16.6C7.6 15.6 0.7 11.3 0.7 6.1C0.7 3.3 2.7 1.3 5.2 1.3C7 1.3 8.4 2 9.2 3.1C10 2 11.4 1.3 13.2 1.3C15.7 1.3 17.7 3.3 17.7 6.1C17.7 11.3 10.8 15.6 9.2 16.6Z"/></svg>
<svg class="e" style="left:280.90px;top:600.45px" width="18.4" height="17.3" viewBox="0 0 18.4 17.3"><path d="M9.2 16.6C7.6 15.6 0.7 11.3 0.7 6.1C0.7 3.3 2.7 1.3 5.2 1.3C7 1.3 8.4 2 9.2 3.1C10 2 11.4 1.3 13.2 1.3C15.7 1.3 17.7 3.3 17.7 6.1C17.7 11.3 10.8 15.6 9.2 16.6Z"/></svg>
<svg class="h" style="left:324.20px;top:600.45px" width="18.4" height="17.3" viewBox="0 0 18.4 17.3"><path d="M9.2 16.6C7.6 15.6 0.7 11.3 0.7 6.1C0.7 3.3 2.7 1.3 5.2 1.3C7 1.3 8.4 2 9.2 3.1C10 2 11.4 1.3 13.2 1.3C15.7 1.3 17.7 3.3 17.7 6.1C17.7 11.3 10.8 15.6 9.2 16.6Z"/></svg>
<svg class="h" style="left:347.50px;top:600.45px" width="18.4" height="17.3" viewBox="0 0 18.4 17.3"><path d="M9.2 16.6C7.6 15.6 0.7 11.3 0.7 6.1C0.7 3.3 2.7 1.3 5.2 1.3C7 1.3 8.4 2 9.2 3.1C10 2 11.4 1.3 13.2 1.3C15.7 1.3 17.7 3.3 17.7 6.1C17.7 11.3 10.8 15.6 9.2 16.6Z"/></svg>
<svg class="h" style="left:370.80px;top:600.45px" width="18.4" height="17.3" viewBox="0 0 18.4 17.3"><path d="M9.2 16.6C7.6 15.6 0.7 11.3 0.7 6.1C0.7 3.3 2.7 1.3 5.2 1.3C7 1.3 8.4 2 9.2 3.1C10 2 11.4 1.3 13.2 1.3C15.7 1.3 17.7 3.3 17.7 6.1C17.7 11.3 10.8 15.6 9.2 16.6Z"/></svg>
<svg class="h" style="left:394.10px;top:600.45px" width="18.4" height="17.3" viewBox="0 0 18.4 17.3"><path d="M9.2 16.6C7.6 15.6 0.7 11.3 0.7 6.1C0.7 3.3 2.7 1.3 5.2 1.3C7 1.3 8.4 2 9.2 3.1C10 2 11.4 1.3 13.2 1.3C15.7 1.3 17.7 3.3 17.7 6.1C17.7 11.3 10.8 15.6 9.2 16.6Z"/></svg>
<svg class="e" style="left:417.40px;top:600.45px" width="18.4" height="17.3" viewBox="0 0 18.4 17.3"><path d="M9.2 16.6C7.6 15.6 0.7 11.3 0.7 6.1C0.7 3.3 2.7 1.3 5.2 1.3C7 1.3 8.4 2 9.2 3.1C10 2 11.4 1.3 13.2 1.3C15.7 1.3 17.7 3.3 17.7 6.1C17.7 11.3 10.8 15.6 9.2 16.6Z"/></svg>
<svg class="h" style="left:460.20px;top:600.45px" width="18.4" height="17.3" viewBox="0 0 18.4 17.3"><path d="M9.2 16.6C7.6 15.6 0.7 11.3 0.7 6.1C0.7 3.3 2.7 1.3 5.2 1.3C7 1.3 8.4 2 9.2 3.1C10 2 11.4 1.3 13.2 1.3C15.7 1.3 17.7 3.3 17.7 6.1C17.7 11.3 10.8 15.6 9.2 16.6Z"/></svg>
<svg class="h" style="left:483.50px;top:600.45px" width="18.4" height="17.3" viewBox="0 0 18.4 17.3"><path d="M9.2 16.6C7.6 15.6 0.7 11.3 0.7 6.1C0.7 3.3 2.7 1.3 5.2 1.3C7 1.3 8.4 2 9.2 3.1C10 2 11.4 1.3 13.2 1.3C15.7 1.3 17.7 3.3 17.7 6.1C17.7 11.3 10.8 15.6 9.2 16.6Z"/></svg>
<svg class="h" style="left:506.80px;top:600.45px" width="18.4" height="17.3" viewBox="0 0 18.4 17.3"><path d="M9.2 16.6C7.6 15.6 0.7 11.3 0.7 6.1C0.7 3.3 2.7 1.3 5.2 1.3C7 1.3 8.4 2 9.2 3.1C10 2 11.4 1.3 13.2 1.3C15.7 1.3 17.7 3.3 17.7 6.1C17.7 11.3 10.8 15.6 9.2 16.6Z"/></svg>
<svg class="e" style="left:530.10px;top:600.45px" width="18.4" height="17.3" viewBox="0 0 18.4 17.3"><path d="M9.2 16.6C7.6 15.6 0.7 11.3 0.7 6.1C0.7 3.3 2.7 1.3 5.2 1.3C7 1.3 8.4 2 9.2 3.1C10 2 11.4 1.3 13.2 1.3C15.7 1.3 17.7 3.3 17.7 6.1C17.7 11.3 10.8 15.6 9.2 16.6Z"/></svg>
<svg class="e" style="left:553.40px;top:600.45px" width="18.4" height="17.3" viewBox="0 0 18.4 17.3"><path d="M9.2 16.6C7.6 15.6 0.7 11.3 0.7 6.1C0.7 3.3 2.7 1.3 5.2 1.3C7 1.3 8.4 2 9.2 3.1C10 2 11.4 1.3 13.2 1.3C15.7 1.3 17.7 3.3 17.7 6.1C17.7 11.3 10.8 15.6 9.2 16.6Z"/></svg>
<svg class="h" style="left:596.20px;top:600.45px" width="18.4" height="17.3" viewBox="0 0 18.4 17.3"><path d="M9.2 16.6C7.6 15.6 0.7 11.3 0.7 6.1C0.7 3.3 2.7 1.3 5.2 1.3C7 1.3 8.4 2 9.2 3.1C10 2 11.4 1.3 13.2 1.3C15.7 1.3 17.7 3.3 17.7 6.1C17.7 11.3 10.8 15.6 9.2 16.6Z"/></svg>
<svg class="h" style="left:619.50px;top:600.45px" width="18.4" height="17.3" viewBox="0 0 18.4 17.3"><path d="M9.2 16.6C7.6 15.6 0.7 11.3 0.7 6.1C0.7 3.3 2.7 1.3 5.2 1.3C7 1.3 8.4 2 9.2 3.1C10 2 11.4 1.3 13.2 1.3C15.7 1.3 17.7 3.3 17.7 6.1C17.7 11.3 10.8 15.6 9.2 16.6Z"/></svg>
<svg class="h" style="left:642.80px;top:600.45px" width="18.4" height="17.3" viewBox="0 0 18.4 17.3"><path d="M9.2 16.6C7.6 15.6 0.7 11.3 0.7 6.1C0.7 3.3 2.7 1.3 5.2 1.3C7 1.3 8.4 2 9.2 3.1C10 2 11.4 1.3 13.2 1.3C15.7 1.3 17.7 3.3 17.7 6.1C17.7 11.3 10.8 15.6 9.2 16.6Z"/></svg>
<svg class="e" style="left:666.10px;top:600.45px" width="18.4" height="17.3" viewBox="0 0 18.4 17.3"><path d="M9.2 16.6C7.6 15.6 0.7 11.3 0.7 6.1C0.7 3.3 2.7 1.3 5.2 1.3C7 1.3 8.4 2 9.2 3.1C10 2 11.4 1.3 13.2 1.3C15.7 1.3 17.7 3.3 17.7 6.1C17.7 11.3 10.8 15.6 9.2 16.6Z"/></svg>
<svg class="e" style="left:689.40px;top:600.45px" width="18.4" height="17.3" viewBox="0 0 18.4 17.3"><path d="M9.2 16.6C7.6 15.6 0.7 11.3 0.7 6.1C0.7 3.3 2.7 1.3 5.2 1.3C7 1.3 8.4 2 9.2 3.1C10 2 11.4 1.3 13.2 1.3C15.7 1.3 17.7 3.3 17.7 6.1C17.7 11.3 10.8 15.6 9.2 16.6Z"/></svg>
<div class="nm" style="top:660.60px;letter-spacing:0.29px">Aquarius</div>
<svg class="h" style="left:187.70px;top:651.50px" width="18.4" height="17.3" viewBox="0 0 18.4 17.3"><path d="M9.2 16.6C7.6 15.6 0.7 11.3 0.7 6.1C0.7 3.3 2.7 1.3 5.2 1.3C7 1.3 8.4 2 9.2 3.1C10 2 11.4 1.3 13.2 1.3C15.7 1.3 17.7 3.3 17.7 6.1C17.7 11.3 10.8 15.6 9.2 16.6Z"/></svg>
<svg class="h" style="left:211.00px;top:651.50px" width="18.4" height="17.3" viewBox="0 0 18.4 17.3"><path d="M9.2 16.6C7.6 15.6 0.7 11.3 0.7 6.1C0.7 3.3 2.7 1.3 5.2 1.3C7 1.3 8.4 2 9.2 3.1C10 2 11.4 1.3 13.2 1.3C15.7 1.3 17.7 3.3 17.7 6.1C17.7 11.3 10.8 15.6 9.2 16.6Z"/></svg>
<svg class="h" style="left:234.30px;top:651.50px" width="18.4" height="17.3" viewBox="0 0 18.4 17.3"><path d="M9.2 16.6C7.6 15.6 0.7 11.3 0.7 6.1C0.7 3.3 2.7 1.3 5.2 1.3C7 1.3 8.4 2 9.2 3.1C10 2 11.4 1.3 13.2 1.3C15.7 1.3 17.7 3.3 17.7 6.1C17.7 11.3 10.8 15.6 9.2 16.6Z"/></svg>
<svg class="h" style="left:257.60px;top:651.50px" width="18.4" height="17.3" viewBox="0 0 18.4 17.3"><path d="M9.2 16.6C7.6 15.6 0.7 11.3 0.7 6.1C0.7 3.3 2.7 1.3 5.2 1.3C7 1.3 8.4 2 9.2 3.1C10 2 11.4 1.3 13.2 1.3C15.7 1.3 17.7 3.3 17.7 6.1C17.7 11.3 10.8 15.6 9.2 16.6Z"/></svg>
<svg class="h" style="left:280.90px;top:651.50px" width="18.4" height="17.3" viewBox="0 0 18.4 17.3"><path d="M9.2 16.6C7.6 15.6 0.7 11.3 0.7 6.1C0.7 3.3 2.7 1.3 5.2 1.3C7 1.3 8.4 2 9.2 3.1C10 2 11.4 1.3 13.2 1.3C15.7 1.3 17.7 3.3 17.7 6.1C17.7 11.3 10.8 15.6 9.2 16.6Z"/></svg>
<svg class="h" style="left:324.20px;top:651.50px" width="18.4" height="17.3" viewBox="0 0 18.4 17.3"><path d="M9.2 16.6C7.6 15.6 0.7 11.3 0.7 6.1C0.7 3.3 2.7 1.3 5.2 1.3C7 1.3 8.4 2 9.2 3.1C10 2 11.4 1.3 13.2 1.3C15.7 1.3 17.7 3.3 17.7 6.1C17.7 11.3 10.8 15.6 9.2 16.6Z"/></svg>
<svg class="h" style="left:347.50px;top:651.50px" width="18.4" height="17.3" viewBox="0 0 18.4 17.3"><path d="M9.2 16.6C7.6 15.6 0.7 11.3 0.7 6.1C0.7 3.3 2.7 1.3 5.2 1.3C7 1.3 8.4 2 9.2 3.1C10 2 11.4 1.3 13.2 1.3C15.7 1.3 17.7 3.3 17.7 6.1C17.7 11.3 10.8 15.6 9.2 16.6Z"/></svg>
<svg class="h" style="left:370.80px;top:651.50px" width="18.4" height="17.3" viewBox="0 0 18.4 17.3"><path d="M9.2 16.6C7.6 15.6 0.7 11.3 0.7 6.1C0.7 3.3 2.7 1.3 5.2 1.3C7 1.3 8.4 2 9.2 3.1C10 2 11.4 1.3 13.2 1.3C15.7 1.3 17.7 3.3 17.7 6.1C17.7 11.3 10.8 15.6 9.2 16.6Z"/></svg>
<svg class="h" style="left:394.10px;top:651.50px" width="18.4" height="17.3" viewBox="0 0 18.4 17.3"><path d="M9.2 16.6C7.6 15.6 0.7 11.3 0.7 6.1C0.7 3.3 2.7 1.3 5.2 1.3C7 1.3 8.4 2 9.2 3.1C10 2 11.4 1.3 13.2 1.3C15.7 1.3 17.7 3.3 17.7 6.1C17.7 11.3 10.8 15.6 9.2 16.6Z"/></svg>
<svg class="h" style="left:417.40px;top:651.50px" width="18.4" height="17.3" viewBox="0 0 18.4 17.3"><path d="M9.2 16.6C7.6 15.6 0.7 11.3 0.7 6.1C0.7 3.3 2.7 1.3 5.2 1.3C7 1.3 8.4 2 9.2 3.1C10 2 11.4 1.3 13.2 1.3C15.7 1.3 17.7 3.3 17.7 6.1C17.7 11.3 10.8 15.6 9.2 16.6Z"/></svg>
<svg class="h" style="left:460.20px;top:651.50px" width="18.4" height="17.3" viewBox="0 0 18.4 17.3"><path d="M9.2 16.6C7.6 15.6 0.7 11.3 0.7 6.1C0.7 3.3 2.7 1.3 5.2 1.3C7 1.3 8.4 2 9.2 3.1C10 2 11.4 1.3 13.2 1.3C15.7 1.3 17.7 3.3 17.7 6.1C17.7 11.3 10.8 15.6 9.2 16.6Z"/></svg>
<svg class="h" style="left:483.50px;top:651.50px" width="18.4" height="17.3" viewBox="0 0 18.4 17.3"><path d="M9.2 16.6C7.6 15.6 0.7 11.3 0.7 6.1C0.7 3.3 2.7 1.3 5.2 1.3C7 1.3 8.4 2 9.2 3.1C10 2 11.4 1.3 13.2 1.3C15.7 1.3 17.7 3.3 17.7 6.1C17.7 11.3 10.8 15.6 9.2 16.6Z"/></svg>
<svg class="h" style="left:506.80px;top:651.50px" width="18.4" height="17.3" viewBox="0 0 18.4 17.3"><path d="M9.2 16.6C7.6 15.6 0.7 11.3 0.7 6.1C0.7 3.3 2.7 1.3 5.2 1.3C7 1.3 8.4 2 9.2 3.1C10 2 11.4 1.3 13.2 1.3C15.7 1.3 17.7 3.3 17.7 6.1C17.7 11.3 10.8 15.6 9.2 16.6Z"/></svg>
<svg class="h" style="left:530.10px;top:651.50px" width="18.4" height="17.3" viewBox="0 0 18.4 17.3"><path d="M9.2 16.6C7.6 15.6 0.7 11.3 0.7 6.1C0.7 3.3 2.7 1.3 5.2 1.3C7 1.3 8.4 2 9.2 3.1C10 2 11.4 1.3 13.2 1.3C15.7 1.3 17.7 3.3 17.7 6.1C17.7 11.3 10.8 15.6 9.2 16.6Z"/></svg>
<svg class="h" style="left:553.40px;top:651.50px" width="18.4" height="17.3" viewBox="0 0 18.4 17.3"><path d="M9.2 16.6C7.6 15.6 0.7 11.3 0.7 6.1C0.7 3.3 2.7 1.3 5.2 1.3C7 1.3 8.4 2 9.2 3.1C10 2 11.4 1.3 13.2 1.3C15.7 1.3 17.7 3.3 17.7 6.1C17.7 11.3 10.8 15.6 9.2 16.6Z"/></svg>
<svg class="h" style="left:596.20px;top:651.50px" width="18.4" height="17.3" viewBox="0 0 18.4 17.3"><path d="M9.2 16.6C7.6 15.6 0.7 11.3 0.7 6.1C0.7 3.3 2.7 1.3 5.2 1.3C7 1.3 8.4 2 9.2 3.1C10 2 11.4 1.3 13.2 1.3C15.7 1.3 17.7 3.3 17.7 6.1C17.7 11.3 10.8 15.6 9.2 16.6Z"/></svg>
<svg class="h" style="left:619.50px;top:651.50px" width="18.4" height="17.3" viewBox="0 0 18.4 17.3"><path d="M9.2 16.6C7.6 15.6 0.7 11.3 0.7 6.1C0.7 3.3 2.7 1.3 5.2 1.3C7 1.3 8.4 2 9.2 3.1C10 2 11.4 1.3 13.2 1.3C15.7 1.3 17.7 3.3 17.7 6.1C17.7 11.3 10.8 15.6 9.2 16.6Z"/></svg>
<svg class="h" style="left:642.80px;top:651.50px" width="18.4" height="17.3" viewBox="0 0 18.4 17.3"><path d="M9.2 16.6C7.6 15.6 0.7 11.3 0.7 6.1C0.7 3.3 2.7 1.3 5.2 1.3C7 1.3 8.4 2 9.2 3.1C10 2 11.4 1.3 13.2 1.3C15.7 1.3 17.7 3.3 17.7 6.1C17.7 11.3 10.8 15.6 9.2 16.6Z"/></svg>
<svg class="h" style="left:666.10px;top:651.50px" width="18.4" height="17.3" viewBox="0 0 18.4 17.3"><path d="M9.2 16.6C7.6 15.6 0.7 11.3 0.7 6.1C0.7 3.3 2.7 1.3 5.2 1.3C7 1.3 8.4 2 9.2 3.1C10 2 11.4 1.3 13.2 1.3C15.7 1.3 17.7 3.3 17.7 6.1C17.7 11.3 10.8 15.6 9.2 16.6Z"/></svg>
<svg class="h" style="left:689.40px;top:651.50px" width="18.4" height="17.3" viewBox="0 0 18.4 17.3"><path d="M9.2 16.6C7.6 15.6 0.7 11.3 0.7 6.1C0.7 3.3 2.7 1.3 5.2 1.3C7 1.3 8.4 2 9.2 3.1C10 2 11.4 1.3 13.2 1.3C15.7 1.3 17.7 3.3 17.7 6.1C17.7 11.3 10.8 15.6 9.2 16.6Z"/></svg>
<div class="nm" style="top:711.60px;letter-spacing:-0.86px">Pisces</div>
<svg class="h" style="left:187.70px;top:702.55px" width="18.4" height="17.3" viewBox="0 0 18.4 17.3"><path d="M9.2 16.6C7.6 15.6 0.7 11.3 0.7 6.1C0.7 3.3 2.7 1.3 5.2 1.3C7 1.3 8.4 2 9.2 3.1C10 2 11.4 1.3 13.2 1.3C15.7 1.3 17.7 3.3 17.7 6.1C17.7 11.3 10.8 15.6 9.2 16.6Z"/></svg>
<svg class="h" style="left:211.00px;top:702.55px" width="18.4" height="17.3" viewBox="0 0 18.4 17.3"><path d="M9.2 16.6C7.6 15.6 0.7 11.3 0.7 6.1C0.7 3.3 2.7 1.3 5.2 1.3C7 1.3 8.4 2 9.2 3.1C10 2 11.4 1.3 13.2 1.3C15.7 1.3 17.7 3.3 17.7 6.1C17.7 11.3 10.8 15.6 9.2 16.6Z"/></svg>
<svg class="e" style="left:234.30px;top:702.55px" width="18.4" height="17.3" viewBox="0 0 18.4 17.3"><path d="M9.2 16.6C7.6 15.6 0.7 11.3 0.7 6.1C0.7 3.3 2.7 1.3 5.2 1.3C7 1.3 8.4 2 9.2 3.1C10 2 11.4 1.3 13.2 1.3C15.7 1.3 17.7 3.3 17.7 6.1C17.7 11.3 10.8 15.6 9.2 16.6Z"/></svg>
<svg class="e" style="left:257.60px;top:702.55px" width="18.4" height="17.3" viewBox="0 0 18.4 17.3"><path d="M9.2 16.6C7.6 15.6 0.7 11.3 0.7 6.1C0.7 3.3 2.7 1.3 5.2 1.3C7 1.3 8.4 2 9.2 3.1C10 2 11.4 1.3 13.2 1.3C15.7 1.3 17.7 3.3 17.7 6.1C17.7 11.3 10.8 15.6 9.2 16.6Z"/></svg>
<svg class="e" style="left:280.90px;top:702.55px" width="18.4" height="17.3" viewBox="0 0 18.4 17.3"><path d="M9.2 16.6C7.6 15.6 0.7 11.3 0.7 6.1C0.7 3.3 2.7 1.3 5.2 1.3C7 1.3 8.4 2 9.2 3.1C10 2 11.4 1.3 13.2 1.3C15.7 1.3 17.7 3.3 17.7 6.1C17.7 11.3 10.8 15.6 9.2 16.6Z"/></svg>
<svg class="h" style="left:324.20px;top:702.55px" width="18.4" height="17.3" viewBox="0 0 18.4 17.3"><path d="M9.2 16.6C7.6 15.6 0.7 11.3 0.7 6.1C0.7 3.3 2.7 1.3 5.2 1.3C7 1.3 8.4 2 9.2 3.1C10 2 11.4 1.3 13.2 1.3C15.7 1.3 17.7 3.3 17.7 6.1C17.7 11.3 10.8 15.6 9.2 16.6Z"/></svg>
<svg class="h" style="left:347.50px;top:702.55px" width="18.4" height="17.3" viewBox="0 0 18.4 17.3"><path d="M9.2 16.6C7.6 15.6 0.7 11.3 0.7 6.1C0.7 3.3 2.7 1.3 5.2 1.3C7 1.3 8.4 2 9.2 3.1C10 2 11.4 1.3 13.2 1.3C15.7 1.3 17.7 3.3 17.7 6.1C17.7 11.3 10.8 15.6 9.2 16.6Z"/></svg>
<svg class="h" style="left:370.80px;top:702.55px" width="18.4" height="17.3" viewBox="0 0 18.4 17.3"><path d="M9.2 16.6C7.6 15.6 0.7 11.3 0.7 6.1C0.7 3.3 2.7 1.3 5.2 1.3C7 1.3 8.4 2 9.2 3.1C10 2 11.4 1.3 13.2 1.3C15.7 1.3 17.7 3.3 17.7 6.1C17.7 11.3 10.8 15.6 9.2 16.6Z"/></svg>
<svg class="e" style="left:394.10px;top:702.55px" width="18.4" height="17.3" viewBox="0 0 18.4 17.3"><path d="M9.2 16.6C7.6 15.6 0.7 11.3 0.7 6.1C0.7 3.3 2.7 1.3 5.2 1.3C7 1.3 8.4 2 9.2 3.1C10 2 11.4 1.3 13.2 1.3C15.7 1.3 17.7 3.3 17.7 6.1C17.7 11.3 10.8 15.6 9.2 16.6Z"/></svg>
<svg class="e" style="left:417.40px;top:702.55px" width="18.4" height="17.3" viewBox="0 0 18.4 17.3"><path d="M9.2 16.6C7.6 15.6 0.7 11.3 0.7 6.1C0.7 3.3 2.7 1.3 5.2 1.3C7 1.3 8.4 2 9.2 3.1C10 2 11.4 1.3 13.2 1.3C15.7 1.3 17.7 3.3 17.7 6.1C17.7 11.3 10.8 15.6 9.2 16.6Z"/></svg>
<svg class="h" style="left:460.20px;top:702.55px" width="18.4" height="17.3" viewBox="0 0 18.4 17.3"><path d="M9.2 16.6C7.6 15.6 0.7 11.3 0.7 6.1C0.7 3.3 2.7 1.3 5.2 1.3C7 1.3 8.4 2 9.2 3.1C10 2 11.4 1.3 13.2 1.3C15.7 1.3 17.7 3.3 17.7 6.1C17.7 11.3 10.8 15.6 9.2 16.6Z"/></svg>
<svg class="e" style="left:483.50px;top:702.55px" width="18.4" height="17.3" viewBox="0 0 18.4 17.3"><path d="M9.2 16.6C7.6 15.6 0.7 11.3 0.7 6.1C0.7 3.3 2.7 1.3 5.2 1.3C7 1.3 8.4 2 9.2 3.1C10 2 11.4 1.3 13.2 1.3C15.7 1.3 17.7 3.3 17.7 6.1C17.7 11.3 10.8 15.6 9.2 16.6Z"/></svg>
<svg class="e" style="left:506.80px;top:702.55px" width="18.4" height="17.3" viewBox="0 0 18.4 17.3"><path d="M9.2 16.6C7.6 15.6 0.7 11.3 0.7 6.1C0.7 3.3 2.7 1.3 5.2 1.3C7 1.3 8.4 2 9.2 3.1C10 2 11.4 1.3 13.2 1.3C15.7 1.3 17.7 3.3 17.7 6.1C17.7 11.3 10.8 15.6 9.2 16.6Z"/></svg>
<svg class="e" style="left:530.10px;top:702.55px" width="18.4" height="17.3" viewBox="0 0 18.4 17.3"><path d="M9.2 16.6C7.6 15.6 0.7 11.3 0.7 6.1C0.7 3.3 2.7 1.3 5.2 1.3C7 1.3 8.4 2 9.2 3.1C10 2 11.4 1.3 13.2 1.3C15.7 1.3 17.7 3.3 17.7 6.1C17.7 11.3 10.8 15.6 9.2 16.6Z"/></svg>
<svg class="e" style="left:553.40px;top:702.55px" width="18.4" height="17.3" viewBox="0 0 18.4 17.3"><path d="M9.2 16.6C7.6 15.6 0.7 11.3 0.7 6.1C0.7 3.3 2.7 1.3 5.2 1.3C7 1.3 8.4 2 9.2 3.1C10 2 11.4 1.3 13.2 1.3C15.7 1.3 17.7 3.3 17.7 6.1C17.7 11.3 10.8 15.6 9.2 16.6Z"/></svg>
<svg class="h" style="left:596.20px;top:702.55px" width="18.4" height="17.3" viewBox="0 0 18.4 17.3"><path d="M9.2 16.6C7.6 15.6 0.7 11.3 0.7 6.1C0.7 3.3 2.7 1.3 5.2 1.3C7 1.3 8.4 2 9.2 3.1C10 2 11.4 1.3 13.2 1.3C15.7 1.3 17.7 3.3 17.7 6.1C17.7 11.3 10.8 15.6 9.2 16.6Z"/></svg>
<svg class="h" style="left:619.50px;top:702.55px" width="18.4" height="17.3" viewBox="0 0 18.4 17.3"><path d="M9.2 16.6C7.6 15.6 0.7 11.3 0.7 6.1C0.7 3.3 2.7 1.3 5.2 1.3C7 1.3 8.4 2 9.2 3.1C10 2 11.4 1.3 13.2 1.3C15.7 1.3 17.7 3.3 17.7 6.1C17.7 11.3 10.8 15.6 9.2 16.6Z"/></svg>
<svg class="e" style="left:642.80px;top:702.55px" width="18.4" height="17.3" viewBox="0 0 18.4 17.3"><path d="M9.2 16.6C7.6 15.6 0.7 11.3 0.7 6.1C0.7 3.3 2.7 1.3 5.2 1.3C7 1.3 8.4 2 9.2 3.1C10 2 11.4 1.3 13.2 1.3C15.7 1.3 17.7 3.3 17.7 6.1C17.7 11.3 10.8 15.6 9.2 16.6Z"/></svg>
<svg class="e" style="left:666.10px;top:702.55px" width="18.4" height="17.3" viewBox="0 0 18.4 17.3"><path d="M9.2 16.6C7.6 15.6 0.7 11.3 0.7 6.1C0.7 3.3 2.7 1.3 5.2 1.3C7 1.3 8.4 2 9.2 3.1C10 2 11.4 1.3 13.2 1.3C15.7 1.3 17.7 3.3 17.7 6.1C17.7 11.3 10.8 15.6 9.2 16.6Z"/></svg>
<svg class="e" style="left:689.40px;top:702.55px" width="18.4" height="17.3" viewBox="0 0 18.4 17.3"><path d="M9.2 16.6C7.6 15.6 0.7 11.3 0.7 6.1C0.7 3.3 2.7 1.3 5.2 1.3C7 1.3 8.4 2 9.2 3.1C10 2 11.4 1.3 13.2 1.3C15.7 1.3 17.7 3.3 17.7 6.1C17.7 11.3 10.8 15.6 9.2 16.6Z"/></svg>
</div>
</body></html>
